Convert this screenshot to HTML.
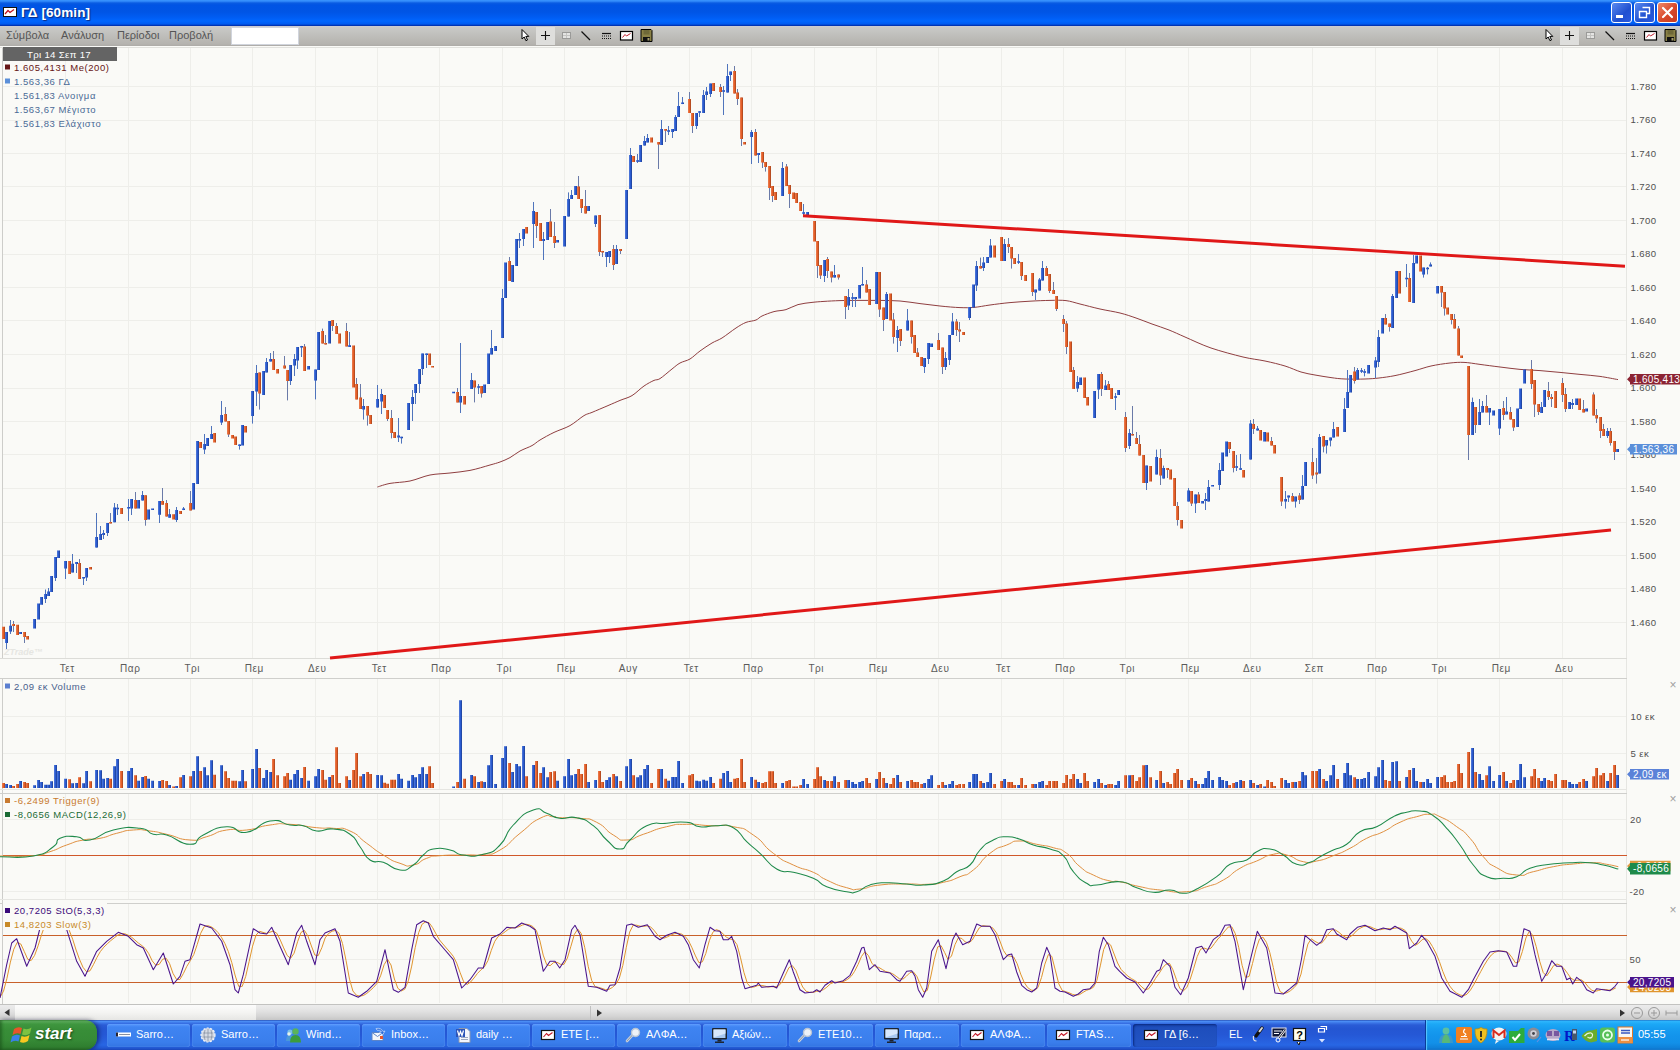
<!DOCTYPE html>
<html><head><meta charset="utf-8"><title>ΓΔ [60min]</title>
<style>
html,body{margin:0;padding:0;width:1680px;height:1050px;overflow:hidden;background:#fafaf7;font-family:"Liberation Sans",sans-serif}
#title{position:absolute;left:0;top:0;width:1680px;height:26px;background:linear-gradient(#3c98ff 0,#2a82f6 1.5px,#0a5ce2 3px,#0054e4 5px,#0055e5 12px,#005cf2 17px,#0066fe 21px,#005af0 24px,#0034b4 25.5px,#002ea8 26px)}
#title .t{position:absolute;left:21px;top:5px;color:#fff;font-weight:bold;font-size:13.5px;letter-spacing:0.1px;text-shadow:1px 1px 1px #0a2a80}
.wb{position:absolute;top:2px;width:19px;height:19px;border:1px solid #fff;border-radius:3px;background:linear-gradient(135deg,#5a8af0,#2050d0 60%,#2a5ae0)}
#toolbar{position:absolute;left:0;top:26px;width:1680px;height:20px;background:linear-gradient(#cdcdd6 0,#c9c9c7 1.5px,#c3c3c0 6px,#bcbbb7 12px,#b5b3af 18px,#adaba7 20px);border-bottom:1px solid #e8e8e6;box-sizing:content-box}
#toolbar .m{position:absolute;top:3px;font-size:11px;color:#555}
#inp{position:absolute;left:231px;top:1px;width:68px;height:18px;background:#fff;border:1px solid #d0d4dc;box-sizing:border-box}
#scroll{position:absolute;left:0;top:1004px;width:1680px;height:15px;border-top:1px solid #c2c2c0;background:linear-gradient(#ececec,#e2e2e2 40%,#d4d4d4 75%,#c6c6c6)}
#thumb{position:absolute;left:15px;top:0;width:241px;height:15px;background:linear-gradient(#fcfcfc,#f4f4f2 50%,#e6e6e4)}
#taskbar{position:absolute;left:0;top:1020px;width:1680px;height:30px;background:linear-gradient(#2a54b8 0,#4a8cf4 1.5px,#3a74e6 3px,#2a5cd6 5px,#2456d2 9px,#2558d6 15px,#2760de 21px,#2866e4 25px,#2258d2 28px,#1c46ba 30px)}
#start{position:absolute;left:0;top:0;width:97px;height:30px;border-radius:0 12px 12px 0;background:linear-gradient(#4a9a4a 0,#5aac5a 1.5px,#3f963f 4px,#388e38 10px,#368a36 20px,#2f7e2f 27px,#286c28 30px);box-shadow:2px 0 4px rgba(0,0,40,.5),inset 2px 0 3px rgba(20,70,20,.5)}
#start span{position:absolute;left:35px;top:4px;color:#fff;font-style:italic;font-weight:bold;font-size:17px;text-shadow:1px 1px 2px #1a4a1a}
.tb{position:absolute;top:4px;height:23px;width:84px;border-radius:3px;background:linear-gradient(#5a9aff 0,#3f84f2 3px,#3a7eec 18px,#3374e2 23px);box-shadow:inset 0 0 1px #8ab8ff}
.tb span{position:absolute;left:29px;top:4px;color:#fff;font-size:11px;white-space:nowrap}
.tb.act{background:linear-gradient(#1a44b0 0,#1e4ebc 4px,#2254c4 23px);box-shadow:inset 1px 1px 2px #0a2a80}
.tb svg{position:absolute;left:8px;top:3px}
.tb.act svg{left:10px}.tb.act span{left:31px}
#tray{position:absolute;left:1425px;top:0;width:255px;height:30px;background:linear-gradient(#1a70c8 0,#2cb4fc 1.5px,#1ca8f6 4px,#169cf0 9px,#1394ec 16px,#1290e8 23px,#0f80d8 28px,#0c6cc4 30px);border-left:1px solid #0a3c98;box-shadow:inset 1px 0 1px #5ac8ff;box-sizing:border-box}
#clock{position:absolute;left:212px;top:8px;color:#fff;font-size:11px}
#el{position:absolute;left:1229px;top:8px;color:#fff;font-size:11px}
svg{display:block}
</style></head>
<body>
<div id="title">
<svg width="22" height="26" style="position:absolute;left:0;top:0"><rect x="3.5" y="7.5" width="13" height="9" fill="#fff" stroke="#111"/><polyline points="5,14 8,10.5 10,12.5 14,9.5" fill="none" stroke="#c01020" stroke-width="1.2"/></svg>
<div class="t">ΓΔ [60min]</div>
<div class="wb" style="left:1611px"><svg width="19" height="19"><rect x="4" y="12" width="7" height="3" fill="#fff"/></svg></div>
<div class="wb" style="left:1634px"><svg width="19" height="19"><path d="M7.5 4.5h7v6h-2.5M4.500 8.500h7v6h-7z" fill="none" stroke="#fff" stroke-width="1.4"/></svg></div>
<div class="wb" style="left:1657px;background:linear-gradient(135deg,#f08a6a,#d8482a 55%,#c83a20)"><svg width="19" height="19"><path d="M5 5l9 9M14 5l-9 9" stroke="#fff" stroke-width="2.2" stroke-linecap="round"/></svg></div>
</div>
<div id="toolbar">
<span class="m" style="left:6px">Σύμβολα</span><span class="m" style="left:61px">Ανάλυση</span><span class="m" style="left:117px">Περίοδοι</span><span class="m" style="left:169px">Προβολή</span>
<div id="inp"></div>
<svg width="1680" height="20" style="position:absolute;left:0;top:0"><g transform="translate(0,0)"><rect x="536" y="1" width="19" height="18" fill="#dededc"/><path d="M522 3.500v9.500l2.200-2 1.700 3.700 1.600-.7-1.700-3.600h3z" fill="#fff" stroke="#000" stroke-width="1" stroke-linejoin="miter"/><path d="M541 9.500h9M545.500 5v9" stroke="#111" stroke-width="1.100" fill="none"/><rect x="562.500" y="6.500" width="8" height="6" fill="#e4e4e2" stroke="#9a9a98"/><path d="M566.500 7v5M563 9.500h7" stroke="#c4c4c2" stroke-width="1"/><path d="M581.500 5.500l8.500 8.500" stroke="#111" stroke-width="1.200" fill="none"/><path d="M602 7.500h9" stroke="#111" stroke-width="1.200"/><path d="M602 10h9M602 12.500h9" stroke="#111" stroke-width="1.200" stroke-dasharray="1 1"/><rect x="620.500" y="5.500" width="12" height="8.500" fill="#fff" stroke="#000" stroke-width="1.200"/><polyline points="622.500,11.500 625,8.500 626.500,10 630.500,7.500" fill="none" stroke="#c02030" stroke-width="1"/><path d="M641 3.500h10l1 1v11h-11z" fill="#8a8146" stroke="#000" stroke-width="1"/><rect x="643.500" y="4" width="6" height="4.500" fill="#6e6838"/><rect x="643" y="11" width="7" height="4.500" fill="#111"/><rect x="647.500" y="12" width="2" height="2.500" fill="#a8a070"/></g><g transform="translate(1024,0)"><rect x="536" y="1" width="19" height="18" fill="#dededc"/><path d="M522 3.500v9.500l2.200-2 1.700 3.700 1.600-.7-1.700-3.600h3z" fill="#fff" stroke="#000" stroke-width="1" stroke-linejoin="miter"/><path d="M541 9.500h9M545.500 5v9" stroke="#111" stroke-width="1.100" fill="none"/><rect x="562.500" y="6.500" width="8" height="6" fill="#e4e4e2" stroke="#9a9a98"/><path d="M566.500 7v5M563 9.500h7" stroke="#c4c4c2" stroke-width="1"/><path d="M581.500 5.500l8.500 8.500" stroke="#111" stroke-width="1.200" fill="none"/><path d="M602 7.500h9" stroke="#111" stroke-width="1.200"/><path d="M602 10h9M602 12.500h9" stroke="#111" stroke-width="1.200" stroke-dasharray="1 1"/><rect x="620.500" y="5.500" width="12" height="8.500" fill="#fff" stroke="#000" stroke-width="1.200"/><polyline points="622.500,11.500 625,8.500 626.500,10 630.500,7.500" fill="none" stroke="#c02030" stroke-width="1"/><path d="M641 3.500h10l1 1v11h-11z" fill="#8a8146" stroke="#000" stroke-width="1"/><rect x="643.500" y="4" width="6" height="4.500" fill="#6e6838"/><rect x="643" y="11" width="7" height="4.500" fill="#111"/><rect x="647.500" y="12" width="2" height="2.500" fill="#a8a070"/></g></svg>
</div>
<svg width="1680" height="958" viewBox="0 46 1680 958" style="position:absolute;left:0;top:46px" shape-rendering="auto">
<rect x="0" y="46" width="1680" height="958" fill="#fafaf7"/>
<path d="M65.5 47V658M65.5 679V789M65.5 794V899M65.5 904V1003M128.5 47V658M128.5 679V789M128.5 794V899M128.5 904V1003M190.5 47V658M190.5 679V789M190.5 794V899M190.5 904V1003M252.5 47V658M252.5 679V789M252.5 794V899M252.5 904V1003M315.5 47V658M315.5 679V789M315.5 794V899M315.5 904V1003M377.5 47V658M377.5 679V789M377.5 794V899M377.5 904V1003M439.5 47V658M439.5 679V789M439.5 794V899M439.5 904V1003M502.5 47V658M502.5 679V789M502.5 794V899M502.5 904V1003M564.5 47V658M564.5 679V789M564.5 794V899M564.5 904V1003M626.5 47V658M626.5 679V789M626.5 794V899M626.5 904V1003M689.5 47V658M689.5 679V789M689.5 794V899M689.5 904V1003M751.5 47V658M751.5 679V789M751.5 794V899M751.5 904V1003M814.5 47V658M814.5 679V789M814.5 794V899M814.5 904V1003M876.5 47V658M876.5 679V789M876.5 794V899M876.5 904V1003M938.5 47V658M938.5 679V789M938.5 794V899M938.5 904V1003M1001.5 47V658M1001.5 679V789M1001.5 794V899M1001.5 904V1003M1063.5 47V658M1063.5 679V789M1063.5 794V899M1063.5 904V1003M1125.5 47V658M1125.5 679V789M1125.5 794V899M1125.5 904V1003M1188.5 47V658M1188.5 679V789M1188.5 794V899M1188.5 904V1003M1250.5 47V658M1250.5 679V789M1250.5 794V899M1250.5 904V1003M1312.5 47V658M1312.5 679V789M1312.5 794V899M1312.5 904V1003M1375.5 47V658M1375.5 679V789M1375.5 794V899M1375.5 904V1003M1437.5 47V658M1437.5 679V789M1437.5 794V899M1437.5 904V1003M1499.5 47V658M1499.5 679V789M1499.5 794V899M1499.5 904V1003M1562.5 47V658M1562.5 679V789M1562.5 794V899M1562.5 904V1003" stroke="#eeeeea" stroke-width="1" fill="none"/>
<path d="M3 86.5H1627M3 120.5H1627M3 153.5H1627M3 186.5H1627M3 220.5H1627M3 254.5H1627M3 287.5H1627M3 320.5H1627M3 354.5H1627M3 388.5H1627M3 421.5H1627M3 454.5H1627M3 488.5H1627M3 522.5H1627M3 555.5H1627M3 588.5H1627M3 622.5H1627M3 716.5H1627M3 753.5H1627M3 819.5H1627M3 891.5H1627M3 959.5H1627" stroke="#eeeeea" stroke-width="1" fill="none"/>
<path d="M2.5 47V658M2.5 679V1004" stroke="#cdcdca" stroke-width="1" fill="none"/>
<path d="M1626.5 47V1004" stroke="#e6e6e2" stroke-width="1" fill="none"/>
<path d="M0 47.5H1680" stroke="#e2e2de" stroke-width="1" fill="none"/>
<path d="M0 658.5H1627" stroke="#dcdcd8" stroke-width="1" fill="none"/>
<path d="M0 678.5H1627M0 793.5H1627M0 903.5H1627" stroke="#cfcfcc" stroke-width="1" fill="none"/>
<path d="M0 789.5H1627M0 899.5H1627" stroke="#e6e6e2" stroke-width="1" fill="none"/>
<path d="M3 935.5H1627M3 982.5H1627" stroke="#c8602a" stroke-width="1" fill="none"/>
<path d="M3 855.5H1627" stroke="#d0582a" stroke-width="1" fill="none"/>
<path d="M377.4 487C379.5 486.4 384.6 484.4 390 483.4C395.4 482.4 403.3 482.4 410 481C416.7 479.6 423.3 476.3 430 475C436.7 473.7 443.3 473.8 450 473C456.7 472.2 463.3 471.7 470 470.4C476.7 469.1 485.0 466.4 490 465C495.0 463.6 496.7 463.2 500 462C503.3 460.8 506.7 459.4 510 457.6C513.3 455.8 516.3 453.0 520 451C523.7 449.0 528.7 447.4 532 445.6C535.3 443.8 536.3 442.2 540 440C543.7 437.8 549.0 434.8 554 432.4C559.0 430.0 565.0 428.4 570 425.6C575.0 422.8 580.3 417.8 584 415.6C587.7 413.4 588.0 414.1 592 412.4C596.0 410.7 603.3 407.6 608 405.6C612.7 403.6 616.0 402.1 620 400.4C624.0 398.7 628.0 398.0 632 395.6C636.0 393.2 640.3 388.5 644 386C647.7 383.5 651.3 381.6 654 380.4C656.7 379.2 657.0 380.5 660 378.6C663.0 376.7 668.7 371.6 672 369C675.3 366.4 677.0 364.7 680 363C683.0 361.3 686.7 361.0 690 359C693.3 357.0 696.3 353.7 700 351C703.7 348.3 708.3 345.2 712 343C715.7 340.8 718.0 340.5 722 338C726.0 335.5 732.0 330.6 736 328C740.0 325.4 742.7 323.7 746 322.4C749.3 321.1 753.3 321.1 756 320C758.7 318.9 759.0 317.4 762 316C765.0 314.6 770.0 312.7 774 311.6C778.0 310.5 782.0 310.8 786 309.6C790.0 308.4 793.7 305.8 798 304.6C802.3 303.4 807.7 302.9 812 302.4C816.3 301.9 819.3 301.7 824 301.4C828.7 301.1 834.0 300.8 840 300.6C846.0 300.4 853.3 300.4 860 300.4C866.7 300.4 873.3 300.3 880 300.4C886.7 300.5 893.3 300.5 900 301C906.7 301.5 913.3 302.8 920 303.6C926.7 304.4 933.3 305.3 940 306C946.7 306.7 954.3 307.4 960 307.6C965.7 307.8 969.0 307.8 974 307.4C979.0 307.0 984.0 305.8 990 305C996.0 304.2 1003.3 303.2 1010 302.6C1016.7 302.0 1023.3 301.6 1030 301.2C1036.7 300.8 1044.0 300.5 1050 300.4C1056.0 300.3 1061.0 300.0 1066 300.6C1071.0 301.2 1074.3 302.6 1080 304C1085.7 305.4 1093.3 307.5 1100 309C1106.7 310.5 1114.0 311.5 1120 313C1126.0 314.5 1130.7 316.2 1136 318C1141.3 319.8 1146.5 322.0 1152 324C1157.5 326.0 1163.5 327.8 1169 330C1174.5 332.2 1178.0 334.0 1185 337C1192.0 340.0 1201.3 344.7 1211 348C1220.7 351.3 1234.0 354.8 1243 357C1252.0 359.2 1258.0 359.5 1265 361C1272.0 362.5 1279.0 364.2 1285 366C1291.0 367.8 1296.0 370.5 1301 372C1306.0 373.5 1310.0 374.1 1315 375C1320.0 375.9 1326.0 376.9 1331 377.6C1336.0 378.3 1339.3 378.8 1345 379C1350.7 379.2 1359.3 379.2 1365 379C1370.7 378.8 1374.0 378.6 1379 378C1384.0 377.4 1389.0 376.8 1395 375.6C1401.0 374.4 1409.0 372.2 1415 370.6C1421.0 369.0 1425.2 367.3 1431 366C1436.8 364.7 1444.5 363.6 1450 363C1455.5 362.4 1459.0 362.2 1464 362.4C1469.0 362.6 1474.0 363.6 1480 364.4C1486.0 365.2 1493.3 366.2 1500 367C1506.7 367.8 1513.3 368.8 1520 369.4C1526.7 370.0 1533.3 370.1 1540 370.6C1546.7 371.1 1553.3 371.8 1560 372.4C1566.7 373.0 1573.3 373.7 1580 374.4C1586.7 375.1 1593.7 375.5 1600 376.4C1606.3 377.3 1615.0 379.1 1618 379.6" fill="none" stroke="#8f3e40" stroke-width="1.0" stroke-linejoin="round"/>
<path d="M6.5 632V649.5M10.5 620V634M45.5 589.5V603M48.5 588V596M55.5 557V581M65.5 561V579M72.5 554V572.4M76.5 562V573M83.5 577V585M86.5 568V581M96.5 513V547.6M100.5 526V540M103.5 530V539M107.5 523V536M114.5 503V522.3M117.5 504V515M128.5 499V521M131.5 499V515M142.5 491V500.6M159.5 501V523M169.5 509V517.7M176.5 507V522M183.5 507V510.1M204.5 434V454M211.5 426V439M221.5 401V425M239.5 444.4V449.6M252.5 391V423.6M256.5 365V406M266.5 358V372.4M270.5 353V361.6M290.5 365V385M294.5 354V376M297.5 347V369M301.5 345.9V357M315.5 369.6V399.4M349.5 332V346.9M363.5 399V419.6M377.5 385V407.6M381.5 389V414M398.5 418V442M401.5 436.7V443.6M412.5 390V421M415.5 384V404M419.5 369V393M422.5 353.6V375M426.5 353.5V368M460.5 343V413M471.5 373V389M478.5 384V394M491.5 330V354.4M502.5 289V338M519.5 233V248M523.5 229V246M533.5 202V248M543.5 232V260M568.5 192.4V216.6M571.5 190V199M595.5 215.6V227M606.5 252V267M609.5 251V263M616.5 245V264M630.5 148V189M637.5 154V163M644.5 136V145.6M647.5 134V142.4M661.5 120V145M668.5 126V135M672.5 129V138M675.5 115V131M678.5 92V117M682.5 97V104.1M696.5 113V129M699.5 111V117M703.5 90V113M706.5 87V100M710.5 83.6V97M723.5 86V115M727.5 64V92.6M730.5 71.6V81M751.5 130V164M758.5 153V163M782.5 162V196M803.5 204V215M824.5 260V282M834.5 265V277.6M848.5 289V310M852.5 293V307M855.5 297V307M862.5 267V285.5M886.5 292V319M897.5 326V352M907.5 309V330.6M924.5 358V373M928.5 343V364M945.5 352V370M949.5 335V365M952.5 313V335M969.5 307V320M976.5 261V291M983.5 257V271M990.5 239V257.6M1004.5 239V261M1018.5 254V264M1035.5 289.6V300M1039.5 278V290.6M1042.5 261V280.6M1077.5 376V392M1098.5 374V399M1105.5 380V390M1115.5 393V410M1129.5 429V449M1146.5 465.6V490M1156.5 449.6V474.4M1163.5 465.6V478.6M1188.5 488V501.6M1195.5 494.4V513M1205.5 493V510M1208.5 480V501.6M1219.5 463V490M1236.5 455V471M1240.5 454V470M1250.5 420V459.6M1257.5 426V430.6M1285.5 491V508.6M1288.5 495.6V502M1295.5 496.6V507.6M1302.5 475V499.6M1319.5 434V473.6M1326.5 440V453.6M1330.5 437.6V446.4M1333.5 422V437.6M1344.5 398V432M1347.5 370V408M1357.5 368V379.6M1361.5 368V373M1364.5 369V376.4M1375.5 357V378M1378.5 330V367M1392.5 294V328M1406.5 264V287M1413.5 255V303M1423.5 267.6V277.6M1427.5 267V274.4M1430.5 262.4V266.4M1472.5 397.6V435M1479.5 399V425M1482.5 401V412.4M1489.5 408V425M1499.5 409V435M1506.5 397V414.4M1541.5 402V413M1572.5 399V409M1607.5 428V438" stroke="#4f74bc" stroke-width="1" fill="none"/>
<path d="M13.5 621V632M24.5 632V643M79.5 559V579M110.5 513V523.5M135.5 492V508.6M145.5 495.2V525.7M162.5 488V504.8M166.5 500V516.6M190.5 491V510.5M225.5 407V421.6M228.5 421V437M259.5 372.4V409.6M273.5 351V370M284.5 356V368.6M287.5 370V400.4M304.5 344V371M322.5 328.6V343.6M325.5 335V344.6M332.5 320V331M336.5 323V334M346.5 323V346.4M356.5 378V399.4M360.5 384V409M367.5 406V425.6M387.5 410V421M391.5 410V438.4M457.5 388V402.4M474.5 380.6V402.4M481.5 386V397.6M509.5 257V281M536.5 212V238M550.5 209V237M554.5 222V248M578.5 176V199M581.5 199V213M585.5 190V213.6M599.5 215V256M602.5 250.9V257M613.5 245V270M620.5 249V254M658.5 142V169M665.5 129.1V142M689.5 92V113M692.5 113V133M720.5 84V97M734.5 66V93.6M737.5 89V105M741.5 97.6V146M755.5 129V155.6M762.5 152V168M765.5 162V171.6M769.5 166V200M772.5 186V202M786.5 164V186M789.5 185V208M817.5 241V278M820.5 265V279M827.5 257V278M831.5 271.6V282.4M838.5 274.4V279.6M845.5 296V319M866.5 280V292.6M879.5 272V317M883.5 307.6V331M893.5 313V343.6M900.5 329V346M911.5 320.6V343.6M917.5 348V357M938.5 333V350M942.5 347.6V374M956.5 319V336M959.5 322V342M980.5 257.6V268.6M1008.5 238V253M1011.5 247V268.6M1021.5 262V280M1032.5 273V296M1046.5 266V276M1049.5 274V293M1053.5 282V294M1056.5 296V311M1063.5 315V332M1066.5 321V354M1073.5 367V389M1101.5 372V396M1108.5 381V390M1125.5 412V452M1132.5 406V435.6M1136.5 432V444M1139.5 435V455.6M1160.5 449V485M1167.5 468V478M1177.5 502V525.6M1191.5 491V506M1198.5 492V503M1229.5 442V453M1233.5 451V472.4M1253.5 419V434M1271.5 437V445.6M1281.5 477V506M1292.5 493V501.6M1299.5 493V504M1312.5 448V479M1316.5 458V483.6M1323.5 436V452.4M1354.5 367V383.6M1385.5 314V324.4M1389.5 323.6V331.6M1409.5 273V302M1441.5 286V307M1444.5 292V315.6M1451.5 314V324.4M1454.5 314V328.6M1458.5 326V355.6M1468.5 366V460M1475.5 407V433M1486.5 395V412.4M1503.5 401V420M1510.5 407V419.6M1513.5 419V431M1531.5 360V389M1534.5 380V417M1538.5 404V415M1548.5 382V400M1551.5 394V407M1562.5 378V402M1565.5 388V412M1583.5 400V412.4M1593.5 392.4V415.6M1596.5 409V423M1600.5 417V438M1603.5 424V436M1610.5 428V445.6M1614.5 441V460" stroke="#6a7aa8" stroke-width="1" fill="none"/>
<path d="M5 632h3V643h-3zM9 625.7h3V631.4h-3zM19 632h3V634h-3zM33 619h3V628.6h-3zM37 603.4h3V619.6h-3zM40 597h3V604.8h-3zM44 594h3V599h-3zM47 591.4h3V596h-3zM50 576h3V592h-3zM54 557h3V578h-3zM57 550.5h3V558h-3zM64 561h3V568.6h-3zM71 563.8h3V572.4h-3zM75 562h3V564h-3zM82 577h3V578.6h-3zM85 568h3V577.5h-3zM95 537h3V547.6h-3zM99 534h3V540h-3zM102 533h3V535h-3zM106 523h3V533h-3zM113 507.6h3V522.3h-3zM116 507.7h3V509.3h-3zM127 507h3V508.6h-3zM130 499h3V508.6h-3zM137 500h3V508.6h-3zM141 494.9h3V500.6h-3zM147 509.5h3V519.6h-3zM151 508.4h3V510.1h-3zM158 501h3V514.7h-3zM168 514.3h3V517.7h-3zM175 510h3V520h-3zM182 508.4h3V510.1h-3zM192 483h3V509.5h-3zM196 441h3V484h-3zM203 444h3V449.6h-3zM206 438h3V446h-3zM210 434h3V439h-3zM220 415h3V422.4h-3zM238 444.4h3V446h-3zM241 425h3V445.4h-3zM251 391h3V416h-3zM255 373h3V391.6h-3zM262 371h3V395h-3zM265 362h3V372.4h-3zM269 359h3V361.6h-3zM289 365h3V381h-3zM293 359h3V365.6h-3zM296 347h3V360.6h-3zM300 345.9h3V347.5h-3zM307 366h3V369.6h-3zM314 369.6h3V380.6h-3zM317 332h3V370h-3zM328 321h3V343.6h-3zM348 345.3h3V346.9h-3zM362 406h3V409.6h-3zM376 399h3V407.6h-3zM380 394h3V401.6h-3zM397 435.4h3V437.6h-3zM400 436.7h3V438.3h-3zM407 403h3V430h-3zM411 397h3V404h-3zM414 384h3V393h-3zM418 369h3V384h-3zM421 353.6h3V369h-3zM425 353.5h3V355.1h-3zM452 391.7h3V393.3h-3zM459 396h3V402.4h-3zM470 380h3V389h-3zM477 386.2h3V387.8h-3zM483 384.4h3V393h-3zM487 353.6h3V384h-3zM490 348h3V354.4h-3zM494 346h3V351h-3zM501 298h3V338h-3zM504 262.4h3V298h-3zM511 265h3V282h-3zM515 239h3V266h-3zM518 239h3V240.6h-3zM522 229h3V239h-3zM532 211h3V224h-3zM542 239h3V241h-3zM546 222h3V240h-3zM556 240h3V242.6h-3zM563 216h3V246.6h-3zM567 199h3V216.6h-3zM570 195h3V199h-3zM574 186h3V195h-3zM587 206h3V211h-3zM594 215.6h3V224h-3zM605 252h3V257h-3zM608 251h3V257h-3zM615 249h3V264h-3zM625 190h3V239h-3zM629 155h3V189h-3zM636 160.2h3V161.8h-3zM639 145h3V162h-3zM643 141h3V145.6h-3zM646 138h3V142.4h-3zM660 129h3V145h-3zM667 130.2h3V131.8h-3zM671 129h3V132h-3zM674 117h3V131h-3zM677 106h3V117h-3zM681 102.5h3V104.1h-3zM695 113h3V126h-3zM698 111.2h3V112.8h-3zM702 95h3V113h-3zM705 91.6h3V95h-3zM709 83.6h3V94h-3zM722 90.2h3V91.8h-3zM726 76h3V92.6h-3zM729 71.6h3V75h-3zM750 132h3V137h-3zM757 153h3V155h-3zM781 168h3V196h-3zM802 212.2h3V213.8h-3zM806 212h3V215h-3zM823 260h3V276h-3zM833 275h3V277.6h-3zM847 297h3V305.6h-3zM851 297.2h3V298.8h-3zM854 297h3V299h-3zM858 285h3V298.6h-3zM861 283.9h3V285.5h-3zM875 272h3V304h-3zM885 294h3V319h-3zM896 330h3V338h-3zM906 320.6h3V330.6h-3zM923 358h3V367h-3zM927 343h3V359h-3zM930 343.6h3V347h-3zM944 358h3V367h-3zM948 335h3V360h-3zM951 321.6h3V335h-3zM968 307h3V318h-3zM972 284.4h3V307.4h-3zM975 266h3V285.6h-3zM982 262.4h3V268h-3zM986 257h3V263h-3zM989 245.6h3V257.6h-3zM1003 244h3V261h-3zM1017 261.2h3V262.8h-3zM1034 289.6h3V292.4h-3zM1038 279.6h3V290.6h-3zM1041 268h3V280.6h-3zM1076 382h3V388.6h-3zM1079 377.6h3V385h-3zM1093 391h3V418h-3zM1097 374h3V389.6h-3zM1104 385.6h3V390h-3zM1114 396.2h3V397.8h-3zM1117 390h3V395h-3zM1128 433h3V446h-3zM1145 465.6h3V483h-3zM1155 457h3V474.4h-3zM1162 468h3V478.6h-3zM1187 490.6h3V501.6h-3zM1194 494.4h3V503.6h-3zM1201 501h3V503.6h-3zM1204 499h3V501h-3zM1207 487h3V501.6h-3zM1211 484.9h3V486.5h-3zM1218 470h3V485h-3zM1221 452.6h3V471h-3zM1225 441.6h3V456.6h-3zM1235 466.2h3V467.8h-3zM1239 468.2h3V469.8h-3zM1249 423.6h3V459.6h-3zM1256 428.6h3V430.6h-3zM1263 432h3V441.6h-3zM1284 499h3V501.6h-3zM1287 495.6h3V497.6h-3zM1294 496.6h3V501.6h-3zM1301 486h3V499.6h-3zM1304 462h3V486h-3zM1318 437h3V473.6h-3zM1325 440h3V445.6h-3zM1329 437.6h3V440.4h-3zM1332 429h3V437.6h-3zM1343 409h3V432h-3zM1346 392h3V408h-3zM1349 375h3V392.4h-3zM1356 370h3V379.6h-3zM1360 370.2h3V371.8h-3zM1363 371.2h3V372.8h-3zM1367 365h3V373.6h-3zM1374 360.6h3V367.6h-3zM1377 337h3V362h-3zM1381 318h3V333.6h-3zM1391 296h3V328h-3zM1395 271h3V298h-3zM1405 277.7h3V279.3h-3zM1412 263h3V303h-3zM1415 255.6h3V263.6h-3zM1422 267.6h3V274.4h-3zM1426 267.7h3V269.3h-3zM1429 264.4h3V266.4h-3zM1436 286h3V293.6h-3zM1471 402h3V435h-3zM1478 412h3V425h-3zM1481 406h3V412.4h-3zM1488 408h3V412.4h-3zM1492 410.6h3V415.6h-3zM1498 409h3V428.6h-3zM1505 411.6h3V414.4h-3zM1516 408.6h3V427h-3zM1519 388.6h3V409h-3zM1523 369.4h3V383.6h-3zM1540 407h3V413h-3zM1543 390h3V407h-3zM1568 402h3V409h-3zM1571 403h3V405h-3zM1575 398.6h3V405h-3zM1585 408.6h3V411.6h-3zM1606 431h3V436h-3zM1616 449h3V452h-3z" fill="#2b5bd0"/>
<path d="M2 626.7h3V639h-3zM12 624h3V626h-3zM16 624.8h3V635h-3zM23 632h3V637h-3zM26 636h3V639.6h-3zM68 561h3V574h-3zM78 563h3V579h-3zM89 567h3V569.5h-3zM109 521.9h3V523.5h-3zM120 508h3V514h-3zM134 500h3V508.6h-3zM144 495.2h3V520h-3zM161 501h3V504.8h-3zM165 502.9h3V516.6h-3zM172 514.3h3V519.6h-3zM179 510.9h3V513.9h-3zM189 502.9h3V510.5h-3zM199 442h3V448h-3zM213 433h3V442.4h-3zM224 414h3V421.6h-3zM227 421h3V434.4h-3zM231 435h3V438.4h-3zM234 436.6h3V445h-3zM244 426h3V432.4h-3zM258 372.4h3V393.6h-3zM272 359h3V370h-3zM276 369h3V373.6h-3zM283 365.6h3V368.6h-3zM286 370h3V381h-3zM303 346.4h3V371h-3zM321 331h3V343.6h-3zM324 343h3V344.6h-3zM331 320h3V326h-3zM335 326h3V334h-3zM338 333.6h3V343.6h-3zM345 331h3V346.4h-3zM352 345.6h3V387.4h-3zM355 384h3V399.4h-3zM359 397.4h3V409h-3zM366 406h3V415.6h-3zM369 415h3V424h-3zM383 395h3V408h-3zM386 410h3V419h-3zM390 418h3V433h-3zM393 432h3V438h-3zM428 353.6h3V365h-3zM431 366h3V367.6h-3zM456 392h3V402.4h-3zM463 396h3V404.4h-3zM473 380.6h3V387.4h-3zM480 386h3V393.6h-3zM508 261h3V281h-3zM525 227h3V233.6h-3zM535 212h3V226h-3zM539 223h3V241h-3zM549 221.6h3V237h-3zM553 236h3V243h-3zM577 186.4h3V199h-3zM580 199h3V208h-3zM584 206h3V213.6h-3zM598 215h3V252h-3zM601 250.9h3V252.5h-3zM612 249h3V265h-3zM619 249h3V251h-3zM632 156h3V162h-3zM650 137.6h3V142.6h-3zM657 142h3V144.4h-3zM664 129.1h3V130.7h-3zM688 99h3V113h-3zM691 113h3V126h-3zM712 83h3V91h-3zM719 87h3V92h-3zM733 71h3V93.6h-3zM736 92.6h3V99h-3zM740 97.6h3V139h-3zM743 142h3V144.6h-3zM754 132h3V155.6h-3zM761 152h3V162.4h-3zM764 162h3V167h-3zM768 166h3V188h-3zM771 186h3V196h-3zM774 192h3V200h-3zM785 166.6h3V186h-3zM788 185h3V194h-3zM792 192.4h3V199h-3zM795 193h3V203h-3zM799 202h3V211h-3zM813 221h3V241.6h-3zM816 241h3V266h-3zM819 265h3V275.6h-3zM826 259h3V271h-3zM830 271.6h3V277.6h-3zM837 274.4h3V277.6h-3zM844 296h3V307h-3zM865 284.4h3V292.6h-3zM868 289h3V305h-3zM878 272h3V309.6h-3zM882 307.6h3V320h-3zM889 293.6h3V320.6h-3zM892 319.6h3V337h-3zM899 329h3V341h-3zM910 320.6h3V337h-3zM913 335h3V353h-3zM916 352.6h3V357h-3zM920 357h3V366h-3zM937 340h3V350h-3zM941 347.6h3V367h-3zM955 321.6h3V330h-3zM958 329.4h3V331.4h-3zM962 332h3V335h-3zM979 266h3V268.6h-3zM993 245.6h3V257.6h-3zM1000 237h3V261h-3zM1007 244h3V247h-3zM1010 247h3V258.6h-3zM1013 258h3V264h-3zM1020 262h3V276h-3zM1024 275h3V281h-3zM1031 273h3V292h-3zM1045 268h3V276h-3zM1048 274h3V291h-3zM1052 290h3V294h-3zM1055 296h3V309h-3zM1062 319h3V324h-3zM1065 323.6h3V347h-3zM1069 341.6h3V372h-3zM1072 370h3V389h-3zM1083 377.6h3V398h-3zM1086 397h3V405.6h-3zM1100 374h3V389h-3zM1107 384h3V390h-3zM1110 388h3V399h-3zM1124 417h3V448h-3zM1131 434h3V435.6h-3zM1135 438h3V444h-3zM1138 444h3V455.6h-3zM1142 455h3V483h-3zM1149 466h3V481.6h-3zM1159 458h3V475.6h-3zM1166 468h3V470h-3zM1169 469.4h3V479.6h-3zM1173 478h3V506h-3zM1176 506h3V520h-3zM1180 520h3V528.4h-3zM1190 491h3V503.6h-3zM1197 494.4h3V503h-3zM1228 442h3V449h-3zM1232 451h3V468h-3zM1242 470h3V477.6h-3zM1252 424h3V429h-3zM1259 430h3V440.6h-3zM1266 432.6h3V441.6h-3zM1270 441h3V445.6h-3zM1273 445h3V453.6h-3zM1280 477h3V501.6h-3zM1291 496h3V501.6h-3zM1298 495.6h3V500h-3zM1311 462h3V475.6h-3zM1315 472.4h3V474.4h-3zM1322 436h3V446.6h-3zM1336 427h3V436.6h-3zM1353 371.6h3V381h-3zM1384 318h3V324.4h-3zM1388 323.6h3V327h-3zM1398 271h3V293.6h-3zM1408 278h3V302h-3zM1419 255.6h3V271.6h-3zM1440 286h3V292.6h-3zM1443 292h3V308.6h-3zM1446 307.6h3V314.4h-3zM1450 314h3V320h-3zM1453 319h3V328.6h-3zM1457 328.6h3V355.6h-3zM1460 355.6h3V358h-3zM1467 366h3V435h-3zM1474 407h3V425h-3zM1485 406h3V412.4h-3zM1502 408h3V415h-3zM1509 412h3V419.6h-3zM1512 419h3V427.6h-3zM1530 369h3V384h-3zM1533 380h3V404.6h-3zM1537 404h3V412h-3zM1547 391h3V397h-3zM1550 397h3V399h-3zM1554 391h3V408h-3zM1561 383h3V395h-3zM1564 394h3V409h-3zM1578 398.6h3V410h-3zM1582 409h3V412.4h-3zM1592 394.4h3V415.6h-3zM1595 415h3V418.6h-3zM1599 417h3V431h-3zM1602 429h3V436h-3zM1609 431h3V443h-3zM1613 441h3V452h-3z" fill="#e55f28"/>
<path d="M5 784h3V788h-3zM9 785h3V788h-3zM19 781h3V788h-3zM33 785.3h3V788h-3zM37 780h3V788h-3zM40 782h3V788h-3zM44 784.7h3V788h-3zM47 784.7h3V788h-3zM50 781.3h3V788h-3zM54 765h3V788h-3zM57 771h3V788h-3zM64 778.7h3V788h-3zM71 783.3h3V788h-3zM75 783h3V788h-3zM82 783.3h3V788h-3zM85 771h3V788h-3zM95 770h3V788h-3zM99 770.3h3V788h-3zM102 778.7h3V788h-3zM106 778h3V788h-3zM113 766.3h3V788h-3zM116 759h3V788h-3zM127 771h3V788h-3zM130 768h3V788h-3zM137 780.7h3V788h-3zM141 777h3V788h-3zM147 778.7h3V788h-3zM151 780.7h3V788h-3zM158 781h3V788h-3zM168 785h3V788h-3zM175 786h3V788h-3zM182 775h3V788h-3zM192 771h3V788h-3zM196 756.3h3V788h-3zM203 767.3h3V788h-3zM206 775.3h3V788h-3zM210 760.3h3V788h-3zM220 765.3h3V788h-3zM238 781.3h3V788h-3zM241 770h3V788h-3zM251 769h3V788h-3zM255 749h3V788h-3zM262 778h3V788h-3zM265 770h3V788h-3zM269 772h3V788h-3zM289 779.7h3V788h-3zM293 774h3V788h-3zM296 770h3V788h-3zM300 778h3V788h-3zM307 780.7h3V788h-3zM314 776.3h3V788h-3zM317 769h3V788h-3zM328 777h3V788h-3zM348 780h3V788h-3zM362 774h3V788h-3zM376 775h3V788h-3zM380 775.3h3V788h-3zM397 774h3V788h-3zM400 778.7h3V788h-3zM407 780.7h3V788h-3zM411 775h3V788h-3zM414 777.3h3V788h-3zM418 774h3V788h-3zM421 767.3h3V788h-3zM425 774h3V788h-3zM452 786.5h3V788h-3zM459 700.3h3V788h-3zM470 775h3V788h-3zM477 782h3V788h-3zM483 782h3V788h-3zM487 765.3h3V788h-3zM490 755h3V788h-3zM494 784h3V788h-3zM501 758h3V788h-3zM504 746.3h3V788h-3zM511 772h3V788h-3zM515 764h3V788h-3zM518 766.3h3V788h-3zM522 746h3V788h-3zM532 765h3V788h-3zM542 767.3h3V788h-3zM546 777.3h3V788h-3zM556 780.7h3V788h-3zM563 776.3h3V788h-3zM567 759h3V788h-3zM570 775.3h3V788h-3zM574 774h3V788h-3zM587 782h3V788h-3zM594 780h3V788h-3zM605 780h3V788h-3zM608 777.3h3V788h-3zM615 776.3h3V788h-3zM625 766.3h3V788h-3zM629 759h3V788h-3zM636 777.3h3V788h-3zM639 775.3h3V788h-3zM643 769h3V788h-3zM646 765h3V788h-3zM660 769h3V788h-3zM667 780.7h3V788h-3zM671 777h3V788h-3zM674 777h3V788h-3zM677 761h3V788h-3zM681 783h3V788h-3zM695 780.7h3V788h-3zM698 781.3h3V788h-3zM702 779.7h3V788h-3zM705 780.7h3V788h-3zM709 777h3V788h-3zM722 773h3V788h-3zM726 771h3V788h-3zM729 782h3V788h-3zM750 777h3V788h-3zM757 782h3V788h-3zM781 783h3V788h-3zM802 779h3V788h-3zM806 784h3V788h-3zM823 780h3V788h-3zM833 776.3h3V788h-3zM847 780h3V788h-3zM851 782h3V788h-3zM854 784h3V788h-3zM858 782h3V788h-3zM861 781h3V788h-3zM875 779h3V788h-3zM885 783h3V788h-3zM896 775h3V788h-3zM906 781h3V788h-3zM923 783h3V788h-3zM927 779h3V788h-3zM930 775.3h3V788h-3zM944 785h3V788h-3zM948 784h3V788h-3zM951 781h3V788h-3zM968 782h3V788h-3zM972 774h3V788h-3zM975 774h3V788h-3zM982 783h3V788h-3zM986 782h3V788h-3zM989 773h3V788h-3zM1003 779h3V788h-3zM1017 785h3V788h-3zM1034 784h3V788h-3zM1038 782h3V788h-3zM1041 781h3V788h-3zM1076 779h3V788h-3zM1079 783h3V788h-3zM1093 782h3V788h-3zM1097 779h3V788h-3zM1104 785h3V788h-3zM1114 785h3V788h-3zM1117 781h3V788h-3zM1128 775.3h3V788h-3zM1145 765h3V788h-3zM1155 780h3V788h-3zM1162 783h3V788h-3zM1187 780h3V788h-3zM1194 781h3V788h-3zM1201 784h3V788h-3zM1204 778h3V788h-3zM1207 771h3V788h-3zM1211 780h3V788h-3zM1218 777h3V788h-3zM1221 780h3V788h-3zM1225 781h3V788h-3zM1235 782h3V788h-3zM1239 780h3V788h-3zM1249 780h3V788h-3zM1256 785h3V788h-3zM1263 786.5h3V788h-3zM1284 780h3V788h-3zM1287 783h3V788h-3zM1294 782h3V788h-3zM1301 772h3V788h-3zM1304 775.3h3V788h-3zM1318 769h3V788h-3zM1325 781h3V788h-3zM1329 775.3h3V788h-3zM1332 765h3V788h-3zM1343 773h3V788h-3zM1346 763h3V788h-3zM1349 775.3h3V788h-3zM1356 779h3V788h-3zM1360 779h3V788h-3zM1363 778h3V788h-3zM1367 772h3V788h-3zM1374 776.3h3V788h-3zM1377 767.3h3V788h-3zM1381 760h3V788h-3zM1391 762h3V788h-3zM1395 761.3h3V788h-3zM1405 777h3V788h-3zM1412 768h3V788h-3zM1415 781h3V788h-3zM1422 782h3V788h-3zM1426 779h3V788h-3zM1429 783h3V788h-3zM1436 777h3V788h-3zM1471 748h3V788h-3zM1478 774h3V788h-3zM1481 780h3V788h-3zM1488 766.3h3V788h-3zM1492 781h3V788h-3zM1498 775h3V788h-3zM1505 781h3V788h-3zM1516 780h3V788h-3zM1519 764h3V788h-3zM1523 777.3h3V788h-3zM1540 781h3V788h-3zM1543 778h3V788h-3zM1568 782h3V788h-3zM1571 784h3V788h-3zM1575 784h3V788h-3zM1585 781h3V788h-3zM1606 781h3V788h-3zM1616 775h3V788h-3z" fill="#2b5bd0"/>
<path d="M2 783h3V788h-3zM12 786h3V788h-3zM16 784h3V788h-3zM23 782h3V788h-3zM26 783h3V788h-3zM68 779.3h3V788h-3zM78 777.3h3V788h-3zM89 781.3h3V788h-3zM109 778.7h3V788h-3zM120 771h3V788h-3zM134 775.3h3V788h-3zM144 776h3V788h-3zM161 780h3V788h-3zM165 781h3V788h-3zM172 786.5h3V788h-3zM179 777.3h3V788h-3zM189 776.3h3V788h-3zM199 771h3V788h-3zM213 774.7h3V788h-3zM224 771.3h3V788h-3zM227 778h3V788h-3zM231 780.7h3V788h-3zM234 780.7h3V788h-3zM244 781.3h3V788h-3zM258 768h3V788h-3zM272 759h3V788h-3zM276 775.3h3V788h-3zM283 776.3h3V788h-3zM286 773h3V788h-3zM303 767h3V788h-3zM321 770h3V788h-3zM324 779.7h3V788h-3zM331 775h3V788h-3zM335 747.3h3V788h-3zM338 783h3V788h-3zM345 776.3h3V788h-3zM352 770h3V788h-3zM355 753h3V788h-3zM359 776.3h3V788h-3zM366 772h3V788h-3zM369 774h3V788h-3zM383 782.7h3V788h-3zM386 783.7h3V788h-3zM390 779.7h3V788h-3zM393 779.7h3V788h-3zM428 766.3h3V788h-3zM431 783h3V788h-3zM456 782h3V788h-3zM463 778.7h3V788h-3zM473 776.3h3V788h-3zM480 781.3h3V788h-3zM508 763h3V788h-3zM525 776.3h3V788h-3zM535 761h3V788h-3zM539 773h3V788h-3zM549 772h3V788h-3zM553 771.3h3V788h-3zM577 769h3V788h-3zM580 774h3V788h-3zM584 764h3V788h-3zM598 771h3V788h-3zM601 782h3V788h-3zM612 774h3V788h-3zM619 781h3V788h-3zM632 775.3h3V788h-3zM650 783h3V788h-3zM657 769h3V788h-3zM664 778.7h3V788h-3zM688 775.3h3V788h-3zM691 774h3V788h-3zM712 783h3V788h-3zM719 778.7h3V788h-3zM733 778.7h3V788h-3zM736 778h3V788h-3zM740 759h3V788h-3zM743 782h3V788h-3zM754 779.7h3V788h-3zM761 783h3V788h-3zM764 782h3V788h-3zM768 771.3h3V788h-3zM771 771.3h3V788h-3zM774 783h3V788h-3zM785 781h3V788h-3zM788 780h3V788h-3zM792 786.5h3V788h-3zM795 786.5h3V788h-3zM799 785h3V788h-3zM813 779h3V788h-3zM816 767.3h3V788h-3zM819 776.3h3V788h-3zM826 781h3V788h-3zM830 781h3V788h-3zM837 782h3V788h-3zM844 780h3V788h-3zM865 778h3V788h-3zM868 783h3V788h-3zM878 772h3V788h-3zM882 778h3V788h-3zM889 784h3V788h-3zM892 778h3V788h-3zM899 782h3V788h-3zM910 780h3V788h-3zM913 782h3V788h-3zM916 782h3V788h-3zM920 784h3V788h-3zM937 785h3V788h-3zM941 782h3V788h-3zM955 785h3V788h-3zM958 784h3V788h-3zM962 784h3V788h-3zM979 781h3V788h-3zM993 784h3V788h-3zM1000 781h3V788h-3zM1007 782h3V788h-3zM1010 782h3V788h-3zM1013 785h3V788h-3zM1020 778h3V788h-3zM1024 785h3V788h-3zM1031 784h3V788h-3zM1045 785h3V788h-3zM1048 781h3V788h-3zM1052 781h3V788h-3zM1055 781h3V788h-3zM1062 783h3V788h-3zM1065 775h3V788h-3zM1069 779h3V788h-3zM1072 774h3V788h-3zM1083 773h3V788h-3zM1086 781h3V788h-3zM1100 783h3V788h-3zM1107 784h3V788h-3zM1110 784h3V788h-3zM1124 775.3h3V788h-3zM1131 775h3V788h-3zM1135 781h3V788h-3zM1138 777.3h3V788h-3zM1142 765.3h3V788h-3zM1149 777.3h3V788h-3zM1159 771h3V788h-3zM1166 782h3V788h-3zM1169 784h3V788h-3zM1173 773h3V788h-3zM1176 769h3V788h-3zM1180 780h3V788h-3zM1190 778h3V788h-3zM1197 784h3V788h-3zM1228 785h3V788h-3zM1232 783h3V788h-3zM1242 781h3V788h-3zM1252 783h3V788h-3zM1259 784h3V788h-3zM1266 780h3V788h-3zM1270 782h3V788h-3zM1273 786h3V788h-3zM1280 778h3V788h-3zM1291 782h3V788h-3zM1298 781h3V788h-3zM1311 771h3V788h-3zM1315 771h3V788h-3zM1322 779h3V788h-3zM1336 779h3V788h-3zM1353 777.3h3V788h-3zM1384 780h3V788h-3zM1388 781h3V788h-3zM1398 781h3V788h-3zM1408 770h3V788h-3zM1419 782h3V788h-3zM1440 777h3V788h-3zM1443 775.3h3V788h-3zM1446 782h3V788h-3zM1450 782h3V788h-3zM1453 781h3V788h-3zM1457 764h3V788h-3zM1460 773h3V788h-3zM1467 752h3V788h-3zM1474 772h3V788h-3zM1485 775.3h3V788h-3zM1502 772h3V788h-3zM1509 783h3V788h-3zM1512 780h3V788h-3zM1530 776.3h3V788h-3zM1533 769h3V788h-3zM1537 778h3V788h-3zM1547 780h3V788h-3zM1550 781h3V788h-3zM1554 774h3V788h-3zM1561 780h3V788h-3zM1564 780h3V788h-3zM1578 782h3V788h-3zM1582 779h3V788h-3zM1592 776.3h3V788h-3zM1595 768h3V788h-3zM1599 775.3h3V788h-3zM1602 773h3V788h-3zM1609 773h3V788h-3zM1613 765h3V788h-3z" fill="#e55f28"/>
<path d="M2 626.7h1V639h-1zM5 632h1V643h-1zM9 625.7h1V631.4h-1zM12 624h1V626h-1zM16 624.8h1V635h-1zM19 632h1V634h-1zM23 632h1V637h-1zM26 636h1V639.6h-1zM33 619h1V628.6h-1zM37 603.4h1V619.6h-1zM40 597h1V604.8h-1zM44 594h1V599h-1zM47 591.4h1V596h-1zM50 576h1V592h-1zM54 557h1V578h-1zM57 550.5h1V558h-1zM64 561h1V568.6h-1zM68 561h1V574h-1zM71 563.8h1V572.4h-1zM75 562h1V564h-1zM78 563h1V579h-1zM82 577h1V578.6h-1zM85 568h1V577.5h-1zM89 567h1V569.5h-1zM95 537h1V547.6h-1zM99 534h1V540h-1zM102 533h1V535h-1zM106 523h1V533h-1zM109 521.9h1V523.5h-1zM113 507.6h1V522.3h-1zM116 507.7h1V509.3h-1zM120 508h1V514h-1zM127 507h1V508.6h-1zM130 499h1V508.6h-1zM134 500h1V508.6h-1zM137 500h1V508.6h-1zM141 494.9h1V500.6h-1zM144 495.2h1V520h-1zM147 509.5h1V519.6h-1zM151 508.4h1V510.1h-1zM158 501h1V514.7h-1zM161 501h1V504.8h-1zM165 502.9h1V516.6h-1zM168 514.3h1V517.7h-1zM172 514.3h1V519.6h-1zM175 510h1V520h-1zM179 510.9h1V513.9h-1zM182 508.4h1V510.1h-1zM189 502.9h1V510.5h-1zM192 483h1V509.5h-1zM196 441h1V484h-1zM199 442h1V448h-1zM203 444h1V449.6h-1zM206 438h1V446h-1zM210 434h1V439h-1zM213 433h1V442.4h-1zM220 415h1V422.4h-1zM224 414h1V421.6h-1zM227 421h1V434.4h-1zM231 435h1V438.4h-1zM234 436.6h1V445h-1zM238 444.4h1V446h-1zM241 425h1V445.4h-1zM244 426h1V432.4h-1zM251 391h1V416h-1zM255 373h1V391.6h-1zM258 372.4h1V393.6h-1zM262 371h1V395h-1zM265 362h1V372.4h-1zM269 359h1V361.6h-1zM272 359h1V370h-1zM276 369h1V373.6h-1zM283 365.6h1V368.6h-1zM286 370h1V381h-1zM289 365h1V381h-1zM293 359h1V365.6h-1zM296 347h1V360.6h-1zM300 345.9h1V347.5h-1zM303 346.4h1V371h-1zM307 366h1V369.6h-1zM314 369.6h1V380.6h-1zM317 332h1V370h-1zM321 331h1V343.6h-1zM324 343h1V344.6h-1zM328 321h1V343.6h-1zM331 320h1V326h-1zM335 326h1V334h-1zM338 333.6h1V343.6h-1zM345 331h1V346.4h-1zM348 345.3h1V346.9h-1zM352 345.6h1V387.4h-1zM355 384h1V399.4h-1zM359 397.4h1V409h-1zM362 406h1V409.6h-1zM366 406h1V415.6h-1zM369 415h1V424h-1zM376 399h1V407.6h-1zM380 394h1V401.6h-1zM383 395h1V408h-1zM386 410h1V419h-1zM390 418h1V433h-1zM393 432h1V438h-1zM397 435.4h1V437.6h-1zM400 436.7h1V438.3h-1zM407 403h1V430h-1zM411 397h1V404h-1zM414 384h1V393h-1zM418 369h1V384h-1zM421 353.6h1V369h-1zM425 353.5h1V355.1h-1zM428 353.6h1V365h-1zM431 366h1V367.6h-1zM452 391.7h1V393.3h-1zM456 392h1V402.4h-1zM459 396h1V402.4h-1zM463 396h1V404.4h-1zM470 380h1V389h-1zM473 380.6h1V387.4h-1zM477 386.2h1V387.8h-1zM480 386h1V393.6h-1zM483 384.4h1V393h-1zM487 353.6h1V384h-1zM490 348h1V354.4h-1zM494 346h1V351h-1zM501 298h1V338h-1zM504 262.4h1V298h-1zM508 261h1V281h-1zM511 265h1V282h-1zM515 239h1V266h-1zM518 239h1V240.6h-1zM522 229h1V239h-1zM525 227h1V233.6h-1zM532 211h1V224h-1zM535 212h1V226h-1zM539 223h1V241h-1zM542 239h1V241h-1zM546 222h1V240h-1zM549 221.6h1V237h-1zM553 236h1V243h-1zM556 240h1V242.6h-1zM563 216h1V246.6h-1zM567 199h1V216.6h-1zM570 195h1V199h-1zM574 186h1V195h-1zM577 186.4h1V199h-1zM580 199h1V208h-1zM584 206h1V213.6h-1zM587 206h1V211h-1zM594 215.6h1V224h-1zM598 215h1V252h-1zM601 250.9h1V252.5h-1zM605 252h1V257h-1zM608 251h1V257h-1zM612 249h1V265h-1zM615 249h1V264h-1zM619 249h1V251h-1zM625 190h1V239h-1zM629 155h1V189h-1zM632 156h1V162h-1zM636 160.2h1V161.8h-1zM639 145h1V162h-1zM643 141h1V145.6h-1zM646 138h1V142.4h-1zM650 137.6h1V142.6h-1zM657 142h1V144.4h-1zM660 129h1V145h-1zM664 129.1h1V130.7h-1zM667 130.2h1V131.8h-1zM671 129h1V132h-1zM674 117h1V131h-1zM677 106h1V117h-1zM681 102.5h1V104.1h-1zM688 99h1V113h-1zM691 113h1V126h-1zM695 113h1V126h-1zM698 111.2h1V112.8h-1zM702 95h1V113h-1zM705 91.6h1V95h-1zM709 83.6h1V94h-1zM712 83h1V91h-1zM719 87h1V92h-1zM722 90.2h1V91.8h-1zM726 76h1V92.6h-1zM729 71.6h1V75h-1zM733 71h1V93.6h-1zM736 92.6h1V99h-1zM740 97.6h1V139h-1zM743 142h1V144.6h-1zM750 132h1V137h-1zM754 132h1V155.6h-1zM757 153h1V155h-1zM761 152h1V162.4h-1zM764 162h1V167h-1zM768 166h1V188h-1zM771 186h1V196h-1zM774 192h1V200h-1zM781 168h1V196h-1zM785 166.6h1V186h-1zM788 185h1V194h-1zM792 192.4h1V199h-1zM795 193h1V203h-1zM799 202h1V211h-1zM802 212.2h1V213.8h-1zM806 212h1V215h-1zM813 221h1V241.6h-1zM816 241h1V266h-1zM819 265h1V275.6h-1zM823 260h1V276h-1zM826 259h1V271h-1zM830 271.6h1V277.6h-1zM833 275h1V277.6h-1zM837 274.4h1V277.6h-1zM844 296h1V307h-1zM847 297h1V305.6h-1zM851 297.2h1V298.8h-1zM854 297h1V299h-1zM858 285h1V298.6h-1zM861 283.9h1V285.5h-1zM865 284.4h1V292.6h-1zM868 289h1V305h-1zM875 272h1V304h-1zM878 272h1V309.6h-1zM882 307.6h1V320h-1zM885 294h1V319h-1zM889 293.6h1V320.6h-1zM892 319.6h1V337h-1zM896 330h1V338h-1zM899 329h1V341h-1zM906 320.6h1V330.6h-1zM910 320.6h1V337h-1zM913 335h1V353h-1zM916 352.6h1V357h-1zM920 357h1V366h-1zM923 358h1V367h-1zM927 343h1V359h-1zM930 343.6h1V347h-1zM937 340h1V350h-1zM941 347.6h1V367h-1zM944 358h1V367h-1zM948 335h1V360h-1zM951 321.6h1V335h-1zM955 321.6h1V330h-1zM958 329.4h1V331.4h-1zM962 332h1V335h-1zM968 307h1V318h-1zM972 284.4h1V307.4h-1zM975 266h1V285.6h-1zM979 266h1V268.6h-1zM982 262.4h1V268h-1zM986 257h1V263h-1zM989 245.6h1V257.6h-1zM993 245.6h1V257.6h-1zM1000 237h1V261h-1zM1003 244h1V261h-1zM1007 244h1V247h-1zM1010 247h1V258.6h-1zM1013 258h1V264h-1zM1017 261.2h1V262.8h-1zM1020 262h1V276h-1zM1024 275h1V281h-1zM1031 273h1V292h-1zM1034 289.6h1V292.4h-1zM1038 279.6h1V290.6h-1zM1041 268h1V280.6h-1zM1045 268h1V276h-1zM1048 274h1V291h-1zM1052 290h1V294h-1zM1055 296h1V309h-1zM1062 319h1V324h-1zM1065 323.6h1V347h-1zM1069 341.6h1V372h-1zM1072 370h1V389h-1zM1076 382h1V388.6h-1zM1079 377.6h1V385h-1zM1083 377.6h1V398h-1zM1086 397h1V405.6h-1zM1093 391h1V418h-1zM1097 374h1V389.6h-1zM1100 374h1V389h-1zM1104 385.6h1V390h-1zM1107 384h1V390h-1zM1110 388h1V399h-1zM1114 396.2h1V397.8h-1zM1117 390h1V395h-1zM1124 417h1V448h-1zM1128 433h1V446h-1zM1131 434h1V435.6h-1zM1135 438h1V444h-1zM1138 444h1V455.6h-1zM1142 455h1V483h-1zM1145 465.6h1V483h-1zM1149 466h1V481.6h-1zM1155 457h1V474.4h-1zM1159 458h1V475.6h-1zM1162 468h1V478.6h-1zM1166 468h1V470h-1zM1169 469.4h1V479.6h-1zM1173 478h1V506h-1zM1176 506h1V520h-1zM1180 520h1V528.4h-1zM1187 490.6h1V501.6h-1zM1190 491h1V503.6h-1zM1194 494.4h1V503.6h-1zM1197 494.4h1V503h-1zM1201 501h1V503.6h-1zM1204 499h1V501h-1zM1207 487h1V501.6h-1zM1211 484.9h1V486.5h-1zM1218 470h1V485h-1zM1221 452.6h1V471h-1zM1225 441.6h1V456.6h-1zM1228 442h1V449h-1zM1232 451h1V468h-1zM1235 466.2h1V467.8h-1zM1239 468.2h1V469.8h-1zM1242 470h1V477.6h-1zM1249 423.6h1V459.6h-1zM1252 424h1V429h-1zM1256 428.6h1V430.6h-1zM1259 430h1V440.6h-1zM1263 432h1V441.6h-1zM1266 432.6h1V441.6h-1zM1270 441h1V445.6h-1zM1273 445h1V453.6h-1zM1280 477h1V501.6h-1zM1284 499h1V501.6h-1zM1287 495.6h1V497.6h-1zM1291 496h1V501.6h-1zM1294 496.6h1V501.6h-1zM1298 495.6h1V500h-1zM1301 486h1V499.6h-1zM1304 462h1V486h-1zM1311 462h1V475.6h-1zM1315 472.4h1V474.4h-1zM1318 437h1V473.6h-1zM1322 436h1V446.6h-1zM1325 440h1V445.6h-1zM1329 437.6h1V440.4h-1zM1332 429h1V437.6h-1zM1336 427h1V436.6h-1zM1343 409h1V432h-1zM1346 392h1V408h-1zM1349 375h1V392.4h-1zM1353 371.6h1V381h-1zM1356 370h1V379.6h-1zM1360 370.2h1V371.8h-1zM1363 371.2h1V372.8h-1zM1367 365h1V373.6h-1zM1374 360.6h1V367.6h-1zM1377 337h1V362h-1zM1381 318h1V333.6h-1zM1384 318h1V324.4h-1zM1388 323.6h1V327h-1zM1391 296h1V328h-1zM1395 271h1V298h-1zM1398 271h1V293.6h-1zM1405 277.7h1V279.3h-1zM1408 278h1V302h-1zM1412 263h1V303h-1zM1415 255.6h1V263.6h-1zM1419 255.6h1V271.6h-1zM1422 267.6h1V274.4h-1zM1426 267.7h1V269.3h-1zM1429 264.4h1V266.4h-1zM1436 286h1V293.6h-1zM1440 286h1V292.6h-1zM1443 292h1V308.6h-1zM1446 307.6h1V314.4h-1zM1450 314h1V320h-1zM1453 319h1V328.6h-1zM1457 328.6h1V355.6h-1zM1460 355.6h1V358h-1zM1467 366h1V435h-1zM1471 402h1V435h-1zM1474 407h1V425h-1zM1478 412h1V425h-1zM1481 406h1V412.4h-1zM1485 406h1V412.4h-1zM1488 408h1V412.4h-1zM1492 410.6h1V415.6h-1zM1498 409h1V428.6h-1zM1502 408h1V415h-1zM1505 411.6h1V414.4h-1zM1509 412h1V419.6h-1zM1512 419h1V427.6h-1zM1516 408.6h1V427h-1zM1519 388.6h1V409h-1zM1523 369.4h1V383.6h-1zM1530 369h1V384h-1zM1533 380h1V404.6h-1zM1537 404h1V412h-1zM1540 407h1V413h-1zM1543 390h1V407h-1zM1547 391h1V397h-1zM1550 397h1V399h-1zM1554 391h1V408h-1zM1561 383h1V395h-1zM1564 394h1V409h-1zM1568 402h1V409h-1zM1571 403h1V405h-1zM1575 398.6h1V405h-1zM1578 398.6h1V410h-1zM1582 409h1V412.4h-1zM1585 408.6h1V411.6h-1zM1592 394.4h1V415.6h-1zM1595 415h1V418.6h-1zM1599 417h1V431h-1zM1602 429h1V436h-1zM1606 431h1V436h-1zM1609 431h1V443h-1zM1613 441h1V452h-1zM1616 449h1V452h-1zM2 783h1V788h-1zM5 784h1V788h-1zM9 785h1V788h-1zM12 786h1V788h-1zM16 784h1V788h-1zM19 781h1V788h-1zM23 782h1V788h-1zM26 783h1V788h-1zM33 785.3h1V788h-1zM37 780h1V788h-1zM40 782h1V788h-1zM44 784.7h1V788h-1zM47 784.7h1V788h-1zM50 781.3h1V788h-1zM54 765h1V788h-1zM57 771h1V788h-1zM64 778.7h1V788h-1zM68 779.3h1V788h-1zM71 783.3h1V788h-1zM75 783h1V788h-1zM78 777.3h1V788h-1zM82 783.3h1V788h-1zM85 771h1V788h-1zM89 781.3h1V788h-1zM95 770h1V788h-1zM99 770.3h1V788h-1zM102 778.7h1V788h-1zM106 778h1V788h-1zM109 778.7h1V788h-1zM113 766.3h1V788h-1zM116 759h1V788h-1zM120 771h1V788h-1zM127 771h1V788h-1zM130 768h1V788h-1zM134 775.3h1V788h-1zM137 780.7h1V788h-1zM141 777h1V788h-1zM144 776h1V788h-1zM147 778.7h1V788h-1zM151 780.7h1V788h-1zM158 781h1V788h-1zM161 780h1V788h-1zM165 781h1V788h-1zM168 785h1V788h-1zM172 786.5h1V788h-1zM175 786h1V788h-1zM179 777.3h1V788h-1zM182 775h1V788h-1zM189 776.3h1V788h-1zM192 771h1V788h-1zM196 756.3h1V788h-1zM199 771h1V788h-1zM203 767.3h1V788h-1zM206 775.3h1V788h-1zM210 760.3h1V788h-1zM213 774.7h1V788h-1zM220 765.3h1V788h-1zM224 771.3h1V788h-1zM227 778h1V788h-1zM231 780.7h1V788h-1zM234 780.7h1V788h-1zM238 781.3h1V788h-1zM241 770h1V788h-1zM244 781.3h1V788h-1zM251 769h1V788h-1zM255 749h1V788h-1zM258 768h1V788h-1zM262 778h1V788h-1zM265 770h1V788h-1zM269 772h1V788h-1zM272 759h1V788h-1zM276 775.3h1V788h-1zM283 776.3h1V788h-1zM286 773h1V788h-1zM289 779.7h1V788h-1zM293 774h1V788h-1zM296 770h1V788h-1zM300 778h1V788h-1zM303 767h1V788h-1zM307 780.7h1V788h-1zM314 776.3h1V788h-1zM317 769h1V788h-1zM321 770h1V788h-1zM324 779.7h1V788h-1zM328 777h1V788h-1zM331 775h1V788h-1zM335 747.3h1V788h-1zM338 783h1V788h-1zM345 776.3h1V788h-1zM348 780h1V788h-1zM352 770h1V788h-1zM355 753h1V788h-1zM359 776.3h1V788h-1zM362 774h1V788h-1zM366 772h1V788h-1zM369 774h1V788h-1zM376 775h1V788h-1zM380 775.3h1V788h-1zM383 782.7h1V788h-1zM386 783.7h1V788h-1zM390 779.7h1V788h-1zM393 779.7h1V788h-1zM397 774h1V788h-1zM400 778.7h1V788h-1zM407 780.7h1V788h-1zM411 775h1V788h-1zM414 777.3h1V788h-1zM418 774h1V788h-1zM421 767.3h1V788h-1zM425 774h1V788h-1zM428 766.3h1V788h-1zM431 783h1V788h-1zM452 786.5h1V788h-1zM456 782h1V788h-1zM459 700.3h1V788h-1zM463 778.7h1V788h-1zM470 775h1V788h-1zM473 776.3h1V788h-1zM477 782h1V788h-1zM480 781.3h1V788h-1zM483 782h1V788h-1zM487 765.3h1V788h-1zM490 755h1V788h-1zM494 784h1V788h-1zM501 758h1V788h-1zM504 746.3h1V788h-1zM508 763h1V788h-1zM511 772h1V788h-1zM515 764h1V788h-1zM518 766.3h1V788h-1zM522 746h1V788h-1zM525 776.3h1V788h-1zM532 765h1V788h-1zM535 761h1V788h-1zM539 773h1V788h-1zM542 767.3h1V788h-1zM546 777.3h1V788h-1zM549 772h1V788h-1zM553 771.3h1V788h-1zM556 780.7h1V788h-1zM563 776.3h1V788h-1zM567 759h1V788h-1zM570 775.3h1V788h-1zM574 774h1V788h-1zM577 769h1V788h-1zM580 774h1V788h-1zM584 764h1V788h-1zM587 782h1V788h-1zM594 780h1V788h-1zM598 771h1V788h-1zM601 782h1V788h-1zM605 780h1V788h-1zM608 777.3h1V788h-1zM612 774h1V788h-1zM615 776.3h1V788h-1zM619 781h1V788h-1zM625 766.3h1V788h-1zM629 759h1V788h-1zM632 775.3h1V788h-1zM636 777.3h1V788h-1zM639 775.3h1V788h-1zM643 769h1V788h-1zM646 765h1V788h-1zM650 783h1V788h-1zM657 769h1V788h-1zM660 769h1V788h-1zM664 778.7h1V788h-1zM667 780.7h1V788h-1zM671 777h1V788h-1zM674 777h1V788h-1zM677 761h1V788h-1zM681 783h1V788h-1zM688 775.3h1V788h-1zM691 774h1V788h-1zM695 780.7h1V788h-1zM698 781.3h1V788h-1zM702 779.7h1V788h-1zM705 780.7h1V788h-1zM709 777h1V788h-1zM712 783h1V788h-1zM719 778.7h1V788h-1zM722 773h1V788h-1zM726 771h1V788h-1zM729 782h1V788h-1zM733 778.7h1V788h-1zM736 778h1V788h-1zM740 759h1V788h-1zM743 782h1V788h-1zM750 777h1V788h-1zM754 779.7h1V788h-1zM757 782h1V788h-1zM761 783h1V788h-1zM764 782h1V788h-1zM768 771.3h1V788h-1zM771 771.3h1V788h-1zM774 783h1V788h-1zM781 783h1V788h-1zM785 781h1V788h-1zM788 780h1V788h-1zM792 786.5h1V788h-1zM795 786.5h1V788h-1zM799 785h1V788h-1zM802 779h1V788h-1zM806 784h1V788h-1zM813 779h1V788h-1zM816 767.3h1V788h-1zM819 776.3h1V788h-1zM823 780h1V788h-1zM826 781h1V788h-1zM830 781h1V788h-1zM833 776.3h1V788h-1zM837 782h1V788h-1zM844 780h1V788h-1zM847 780h1V788h-1zM851 782h1V788h-1zM854 784h1V788h-1zM858 782h1V788h-1zM861 781h1V788h-1zM865 778h1V788h-1zM868 783h1V788h-1zM875 779h1V788h-1zM878 772h1V788h-1zM882 778h1V788h-1zM885 783h1V788h-1zM889 784h1V788h-1zM892 778h1V788h-1zM896 775h1V788h-1zM899 782h1V788h-1zM906 781h1V788h-1zM910 780h1V788h-1zM913 782h1V788h-1zM916 782h1V788h-1zM920 784h1V788h-1zM923 783h1V788h-1zM927 779h1V788h-1zM930 775.3h1V788h-1zM937 785h1V788h-1zM941 782h1V788h-1zM944 785h1V788h-1zM948 784h1V788h-1zM951 781h1V788h-1zM955 785h1V788h-1zM958 784h1V788h-1zM962 784h1V788h-1zM968 782h1V788h-1zM972 774h1V788h-1zM975 774h1V788h-1zM979 781h1V788h-1zM982 783h1V788h-1zM986 782h1V788h-1zM989 773h1V788h-1zM993 784h1V788h-1zM1000 781h1V788h-1zM1003 779h1V788h-1zM1007 782h1V788h-1zM1010 782h1V788h-1zM1013 785h1V788h-1zM1017 785h1V788h-1zM1020 778h1V788h-1zM1024 785h1V788h-1zM1031 784h1V788h-1zM1034 784h1V788h-1zM1038 782h1V788h-1zM1041 781h1V788h-1zM1045 785h1V788h-1zM1048 781h1V788h-1zM1052 781h1V788h-1zM1055 781h1V788h-1zM1062 783h1V788h-1zM1065 775h1V788h-1zM1069 779h1V788h-1zM1072 774h1V788h-1zM1076 779h1V788h-1zM1079 783h1V788h-1zM1083 773h1V788h-1zM1086 781h1V788h-1zM1093 782h1V788h-1zM1097 779h1V788h-1zM1100 783h1V788h-1zM1104 785h1V788h-1zM1107 784h1V788h-1zM1110 784h1V788h-1zM1114 785h1V788h-1zM1117 781h1V788h-1zM1124 775.3h1V788h-1zM1128 775.3h1V788h-1zM1131 775h1V788h-1zM1135 781h1V788h-1zM1138 777.3h1V788h-1zM1142 765.3h1V788h-1zM1145 765h1V788h-1zM1149 777.3h1V788h-1zM1155 780h1V788h-1zM1159 771h1V788h-1zM1162 783h1V788h-1zM1166 782h1V788h-1zM1169 784h1V788h-1zM1173 773h1V788h-1zM1176 769h1V788h-1zM1180 780h1V788h-1zM1187 780h1V788h-1zM1190 778h1V788h-1zM1194 781h1V788h-1zM1197 784h1V788h-1zM1201 784h1V788h-1zM1204 778h1V788h-1zM1207 771h1V788h-1zM1211 780h1V788h-1zM1218 777h1V788h-1zM1221 780h1V788h-1zM1225 781h1V788h-1zM1228 785h1V788h-1zM1232 783h1V788h-1zM1235 782h1V788h-1zM1239 780h1V788h-1zM1242 781h1V788h-1zM1249 780h1V788h-1zM1252 783h1V788h-1zM1256 785h1V788h-1zM1259 784h1V788h-1zM1263 786.5h1V788h-1zM1266 780h1V788h-1zM1270 782h1V788h-1zM1273 786h1V788h-1zM1280 778h1V788h-1zM1284 780h1V788h-1zM1287 783h1V788h-1zM1291 782h1V788h-1zM1294 782h1V788h-1zM1298 781h1V788h-1zM1301 772h1V788h-1zM1304 775.3h1V788h-1zM1311 771h1V788h-1zM1315 771h1V788h-1zM1318 769h1V788h-1zM1322 779h1V788h-1zM1325 781h1V788h-1zM1329 775.3h1V788h-1zM1332 765h1V788h-1zM1336 779h1V788h-1zM1343 773h1V788h-1zM1346 763h1V788h-1zM1349 775.3h1V788h-1zM1353 777.3h1V788h-1zM1356 779h1V788h-1zM1360 779h1V788h-1zM1363 778h1V788h-1zM1367 772h1V788h-1zM1374 776.3h1V788h-1zM1377 767.3h1V788h-1zM1381 760h1V788h-1zM1384 780h1V788h-1zM1388 781h1V788h-1zM1391 762h1V788h-1zM1395 761.3h1V788h-1zM1398 781h1V788h-1zM1405 777h1V788h-1zM1408 770h1V788h-1zM1412 768h1V788h-1zM1415 781h1V788h-1zM1419 782h1V788h-1zM1422 782h1V788h-1zM1426 779h1V788h-1zM1429 783h1V788h-1zM1436 777h1V788h-1zM1440 777h1V788h-1zM1443 775.3h1V788h-1zM1446 782h1V788h-1zM1450 782h1V788h-1zM1453 781h1V788h-1zM1457 764h1V788h-1zM1460 773h1V788h-1zM1467 752h1V788h-1zM1471 748h1V788h-1zM1474 772h1V788h-1zM1478 774h1V788h-1zM1481 780h1V788h-1zM1485 775.3h1V788h-1zM1488 766.3h1V788h-1zM1492 781h1V788h-1zM1498 775h1V788h-1zM1502 772h1V788h-1zM1505 781h1V788h-1zM1509 783h1V788h-1zM1512 780h1V788h-1zM1516 780h1V788h-1zM1519 764h1V788h-1zM1523 777.3h1V788h-1zM1530 776.3h1V788h-1zM1533 769h1V788h-1zM1537 778h1V788h-1zM1540 781h1V788h-1zM1543 778h1V788h-1zM1547 780h1V788h-1zM1550 781h1V788h-1zM1554 774h1V788h-1zM1561 780h1V788h-1zM1564 780h1V788h-1zM1568 782h1V788h-1zM1571 784h1V788h-1zM1575 784h1V788h-1zM1578 782h1V788h-1zM1582 779h1V788h-1zM1585 781h1V788h-1zM1592 776.3h1V788h-1zM1595 768h1V788h-1zM1599 775.3h1V788h-1zM1602 773h1V788h-1zM1606 781h1V788h-1zM1609 773h1V788h-1zM1613 765h1V788h-1zM1616 775h1V788h-1z" fill="#fff" fill-opacity=".14"/>
<path d="M4 626.7h1V639h-1zM7 632h1V643h-1zM11 625.7h1V631.4h-1zM14 624h1V626h-1zM18 624.8h1V635h-1zM21 632h1V634h-1zM25 632h1V637h-1zM28 636h1V639.6h-1zM35 619h1V628.6h-1zM39 603.4h1V619.6h-1zM42 597h1V604.8h-1zM46 594h1V599h-1zM49 591.4h1V596h-1zM52 576h1V592h-1zM56 557h1V578h-1zM59 550.5h1V558h-1zM66 561h1V568.6h-1zM70 561h1V574h-1zM73 563.8h1V572.4h-1zM77 562h1V564h-1zM80 563h1V579h-1zM84 577h1V578.6h-1zM87 568h1V577.5h-1zM91 567h1V569.5h-1zM97 537h1V547.6h-1zM101 534h1V540h-1zM104 533h1V535h-1zM108 523h1V533h-1zM111 521.9h1V523.5h-1zM115 507.6h1V522.3h-1zM118 507.7h1V509.3h-1zM122 508h1V514h-1zM129 507h1V508.6h-1zM132 499h1V508.6h-1zM136 500h1V508.6h-1zM139 500h1V508.6h-1zM143 494.9h1V500.6h-1zM146 495.2h1V520h-1zM149 509.5h1V519.6h-1zM153 508.4h1V510.1h-1zM160 501h1V514.7h-1zM163 501h1V504.8h-1zM167 502.9h1V516.6h-1zM170 514.3h1V517.7h-1zM174 514.3h1V519.6h-1zM177 510h1V520h-1zM181 510.9h1V513.9h-1zM184 508.4h1V510.1h-1zM191 502.9h1V510.5h-1zM194 483h1V509.5h-1zM198 441h1V484h-1zM201 442h1V448h-1zM205 444h1V449.6h-1zM208 438h1V446h-1zM212 434h1V439h-1zM215 433h1V442.4h-1zM222 415h1V422.4h-1zM226 414h1V421.6h-1zM229 421h1V434.4h-1zM233 435h1V438.4h-1zM236 436.6h1V445h-1zM240 444.4h1V446h-1zM243 425h1V445.4h-1zM246 426h1V432.4h-1zM253 391h1V416h-1zM257 373h1V391.6h-1zM260 372.4h1V393.6h-1zM264 371h1V395h-1zM267 362h1V372.4h-1zM271 359h1V361.6h-1zM274 359h1V370h-1zM278 369h1V373.6h-1zM285 365.6h1V368.6h-1zM288 370h1V381h-1zM291 365h1V381h-1zM295 359h1V365.6h-1zM298 347h1V360.6h-1zM302 345.9h1V347.5h-1zM305 346.4h1V371h-1zM309 366h1V369.6h-1zM316 369.6h1V380.6h-1zM319 332h1V370h-1zM323 331h1V343.6h-1zM326 343h1V344.6h-1zM330 321h1V343.6h-1zM333 320h1V326h-1zM337 326h1V334h-1zM340 333.6h1V343.6h-1zM347 331h1V346.4h-1zM350 345.3h1V346.9h-1zM354 345.6h1V387.4h-1zM357 384h1V399.4h-1zM361 397.4h1V409h-1zM364 406h1V409.6h-1zM368 406h1V415.6h-1zM371 415h1V424h-1zM378 399h1V407.6h-1zM382 394h1V401.6h-1zM385 395h1V408h-1zM388 410h1V419h-1zM392 418h1V433h-1zM395 432h1V438h-1zM399 435.4h1V437.6h-1zM402 436.7h1V438.3h-1zM409 403h1V430h-1zM413 397h1V404h-1zM416 384h1V393h-1zM420 369h1V384h-1zM423 353.6h1V369h-1zM427 353.5h1V355.1h-1zM430 353.6h1V365h-1zM433 366h1V367.6h-1zM454 391.7h1V393.3h-1zM458 392h1V402.4h-1zM461 396h1V402.4h-1zM465 396h1V404.4h-1zM472 380h1V389h-1zM475 380.6h1V387.4h-1zM479 386.2h1V387.8h-1zM482 386h1V393.6h-1zM485 384.4h1V393h-1zM489 353.6h1V384h-1zM492 348h1V354.4h-1zM496 346h1V351h-1zM503 298h1V338h-1zM506 262.4h1V298h-1zM510 261h1V281h-1zM513 265h1V282h-1zM517 239h1V266h-1zM520 239h1V240.6h-1zM524 229h1V239h-1zM527 227h1V233.6h-1zM534 211h1V224h-1zM537 212h1V226h-1zM541 223h1V241h-1zM544 239h1V241h-1zM548 222h1V240h-1zM551 221.6h1V237h-1zM555 236h1V243h-1zM558 240h1V242.6h-1zM565 216h1V246.6h-1zM569 199h1V216.6h-1zM572 195h1V199h-1zM576 186h1V195h-1zM579 186.4h1V199h-1zM582 199h1V208h-1zM586 206h1V213.6h-1zM589 206h1V211h-1zM596 215.6h1V224h-1zM600 215h1V252h-1zM603 250.9h1V252.5h-1zM607 252h1V257h-1zM610 251h1V257h-1zM614 249h1V265h-1zM617 249h1V264h-1zM621 249h1V251h-1zM627 190h1V239h-1zM631 155h1V189h-1zM634 156h1V162h-1zM638 160.2h1V161.8h-1zM641 145h1V162h-1zM645 141h1V145.6h-1zM648 138h1V142.4h-1zM652 137.6h1V142.6h-1zM659 142h1V144.4h-1zM662 129h1V145h-1zM666 129.1h1V130.7h-1zM669 130.2h1V131.8h-1zM673 129h1V132h-1zM676 117h1V131h-1zM679 106h1V117h-1zM683 102.5h1V104.1h-1zM690 99h1V113h-1zM693 113h1V126h-1zM697 113h1V126h-1zM700 111.2h1V112.8h-1zM704 95h1V113h-1zM707 91.6h1V95h-1zM711 83.6h1V94h-1zM714 83h1V91h-1zM721 87h1V92h-1zM724 90.2h1V91.8h-1zM728 76h1V92.6h-1zM731 71.6h1V75h-1zM735 71h1V93.6h-1zM738 92.6h1V99h-1zM742 97.6h1V139h-1zM745 142h1V144.6h-1zM752 132h1V137h-1zM756 132h1V155.6h-1zM759 153h1V155h-1zM763 152h1V162.4h-1zM766 162h1V167h-1zM770 166h1V188h-1zM773 186h1V196h-1zM776 192h1V200h-1zM783 168h1V196h-1zM787 166.6h1V186h-1zM790 185h1V194h-1zM794 192.4h1V199h-1zM797 193h1V203h-1zM801 202h1V211h-1zM804 212.2h1V213.8h-1zM808 212h1V215h-1zM815 221h1V241.6h-1zM818 241h1V266h-1zM821 265h1V275.6h-1zM825 260h1V276h-1zM828 259h1V271h-1zM832 271.6h1V277.6h-1zM835 275h1V277.6h-1zM839 274.4h1V277.6h-1zM846 296h1V307h-1zM849 297h1V305.6h-1zM853 297.2h1V298.8h-1zM856 297h1V299h-1zM860 285h1V298.6h-1zM863 283.9h1V285.5h-1zM867 284.4h1V292.6h-1zM870 289h1V305h-1zM877 272h1V304h-1zM880 272h1V309.6h-1zM884 307.6h1V320h-1zM887 294h1V319h-1zM891 293.6h1V320.6h-1zM894 319.6h1V337h-1zM898 330h1V338h-1zM901 329h1V341h-1zM908 320.6h1V330.6h-1zM912 320.6h1V337h-1zM915 335h1V353h-1zM918 352.6h1V357h-1zM922 357h1V366h-1zM925 358h1V367h-1zM929 343h1V359h-1zM932 343.6h1V347h-1zM939 340h1V350h-1zM943 347.6h1V367h-1zM946 358h1V367h-1zM950 335h1V360h-1zM953 321.6h1V335h-1zM957 321.6h1V330h-1zM960 329.4h1V331.4h-1zM964 332h1V335h-1zM970 307h1V318h-1zM974 284.4h1V307.4h-1zM977 266h1V285.6h-1zM981 266h1V268.6h-1zM984 262.4h1V268h-1zM988 257h1V263h-1zM991 245.6h1V257.6h-1zM995 245.6h1V257.6h-1zM1002 237h1V261h-1zM1005 244h1V261h-1zM1009 244h1V247h-1zM1012 247h1V258.6h-1zM1015 258h1V264h-1zM1019 261.2h1V262.8h-1zM1022 262h1V276h-1zM1026 275h1V281h-1zM1033 273h1V292h-1zM1036 289.6h1V292.4h-1zM1040 279.6h1V290.6h-1zM1043 268h1V280.6h-1zM1047 268h1V276h-1zM1050 274h1V291h-1zM1054 290h1V294h-1zM1057 296h1V309h-1zM1064 319h1V324h-1zM1067 323.6h1V347h-1zM1071 341.6h1V372h-1zM1074 370h1V389h-1zM1078 382h1V388.6h-1zM1081 377.6h1V385h-1zM1085 377.6h1V398h-1zM1088 397h1V405.6h-1zM1095 391h1V418h-1zM1099 374h1V389.6h-1zM1102 374h1V389h-1zM1106 385.6h1V390h-1zM1109 384h1V390h-1zM1112 388h1V399h-1zM1116 396.2h1V397.8h-1zM1119 390h1V395h-1zM1126 417h1V448h-1zM1130 433h1V446h-1zM1133 434h1V435.6h-1zM1137 438h1V444h-1zM1140 444h1V455.6h-1zM1144 455h1V483h-1zM1147 465.6h1V483h-1zM1151 466h1V481.6h-1zM1157 457h1V474.4h-1zM1161 458h1V475.6h-1zM1164 468h1V478.6h-1zM1168 468h1V470h-1zM1171 469.4h1V479.6h-1zM1175 478h1V506h-1zM1178 506h1V520h-1zM1182 520h1V528.4h-1zM1189 490.6h1V501.6h-1zM1192 491h1V503.6h-1zM1196 494.4h1V503.6h-1zM1199 494.4h1V503h-1zM1203 501h1V503.6h-1zM1206 499h1V501h-1zM1209 487h1V501.6h-1zM1213 484.9h1V486.5h-1zM1220 470h1V485h-1zM1223 452.6h1V471h-1zM1227 441.6h1V456.6h-1zM1230 442h1V449h-1zM1234 451h1V468h-1zM1237 466.2h1V467.8h-1zM1241 468.2h1V469.8h-1zM1244 470h1V477.6h-1zM1251 423.6h1V459.6h-1zM1254 424h1V429h-1zM1258 428.6h1V430.6h-1zM1261 430h1V440.6h-1zM1265 432h1V441.6h-1zM1268 432.6h1V441.6h-1zM1272 441h1V445.6h-1zM1275 445h1V453.6h-1zM1282 477h1V501.6h-1zM1286 499h1V501.6h-1zM1289 495.6h1V497.6h-1zM1293 496h1V501.6h-1zM1296 496.6h1V501.6h-1zM1300 495.6h1V500h-1zM1303 486h1V499.6h-1zM1306 462h1V486h-1zM1313 462h1V475.6h-1zM1317 472.4h1V474.4h-1zM1320 437h1V473.6h-1zM1324 436h1V446.6h-1zM1327 440h1V445.6h-1zM1331 437.6h1V440.4h-1zM1334 429h1V437.6h-1zM1338 427h1V436.6h-1zM1345 409h1V432h-1zM1348 392h1V408h-1zM1351 375h1V392.4h-1zM1355 371.6h1V381h-1zM1358 370h1V379.6h-1zM1362 370.2h1V371.8h-1zM1365 371.2h1V372.8h-1zM1369 365h1V373.6h-1zM1376 360.6h1V367.6h-1zM1379 337h1V362h-1zM1383 318h1V333.6h-1zM1386 318h1V324.4h-1zM1390 323.6h1V327h-1zM1393 296h1V328h-1zM1397 271h1V298h-1zM1400 271h1V293.6h-1zM1407 277.7h1V279.3h-1zM1410 278h1V302h-1zM1414 263h1V303h-1zM1417 255.6h1V263.6h-1zM1421 255.6h1V271.6h-1zM1424 267.6h1V274.4h-1zM1428 267.7h1V269.3h-1zM1431 264.4h1V266.4h-1zM1438 286h1V293.6h-1zM1442 286h1V292.6h-1zM1445 292h1V308.6h-1zM1448 307.6h1V314.4h-1zM1452 314h1V320h-1zM1455 319h1V328.6h-1zM1459 328.6h1V355.6h-1zM1462 355.6h1V358h-1zM1469 366h1V435h-1zM1473 402h1V435h-1zM1476 407h1V425h-1zM1480 412h1V425h-1zM1483 406h1V412.4h-1zM1487 406h1V412.4h-1zM1490 408h1V412.4h-1zM1494 410.6h1V415.6h-1zM1500 409h1V428.6h-1zM1504 408h1V415h-1zM1507 411.6h1V414.4h-1zM1511 412h1V419.6h-1zM1514 419h1V427.6h-1zM1518 408.6h1V427h-1zM1521 388.6h1V409h-1zM1525 369.4h1V383.6h-1zM1532 369h1V384h-1zM1535 380h1V404.6h-1zM1539 404h1V412h-1zM1542 407h1V413h-1zM1545 390h1V407h-1zM1549 391h1V397h-1zM1552 397h1V399h-1zM1556 391h1V408h-1zM1563 383h1V395h-1zM1566 394h1V409h-1zM1570 402h1V409h-1zM1573 403h1V405h-1zM1577 398.6h1V405h-1zM1580 398.6h1V410h-1zM1584 409h1V412.4h-1zM1587 408.6h1V411.6h-1zM1594 394.4h1V415.6h-1zM1597 415h1V418.6h-1zM1601 417h1V431h-1zM1604 429h1V436h-1zM1608 431h1V436h-1zM1611 431h1V443h-1zM1615 441h1V452h-1zM1618 449h1V452h-1zM4 783h1V788h-1zM7 784h1V788h-1zM11 785h1V788h-1zM14 786h1V788h-1zM18 784h1V788h-1zM21 781h1V788h-1zM25 782h1V788h-1zM28 783h1V788h-1zM35 785.3h1V788h-1zM39 780h1V788h-1zM42 782h1V788h-1zM46 784.7h1V788h-1zM49 784.7h1V788h-1zM52 781.3h1V788h-1zM56 765h1V788h-1zM59 771h1V788h-1zM66 778.7h1V788h-1zM70 779.3h1V788h-1zM73 783.3h1V788h-1zM77 783h1V788h-1zM80 777.3h1V788h-1zM84 783.3h1V788h-1zM87 771h1V788h-1zM91 781.3h1V788h-1zM97 770h1V788h-1zM101 770.3h1V788h-1zM104 778.7h1V788h-1zM108 778h1V788h-1zM111 778.7h1V788h-1zM115 766.3h1V788h-1zM118 759h1V788h-1zM122 771h1V788h-1zM129 771h1V788h-1zM132 768h1V788h-1zM136 775.3h1V788h-1zM139 780.7h1V788h-1zM143 777h1V788h-1zM146 776h1V788h-1zM149 778.7h1V788h-1zM153 780.7h1V788h-1zM160 781h1V788h-1zM163 780h1V788h-1zM167 781h1V788h-1zM170 785h1V788h-1zM174 786.5h1V788h-1zM177 786h1V788h-1zM181 777.3h1V788h-1zM184 775h1V788h-1zM191 776.3h1V788h-1zM194 771h1V788h-1zM198 756.3h1V788h-1zM201 771h1V788h-1zM205 767.3h1V788h-1zM208 775.3h1V788h-1zM212 760.3h1V788h-1zM215 774.7h1V788h-1zM222 765.3h1V788h-1zM226 771.3h1V788h-1zM229 778h1V788h-1zM233 780.7h1V788h-1zM236 780.7h1V788h-1zM240 781.3h1V788h-1zM243 770h1V788h-1zM246 781.3h1V788h-1zM253 769h1V788h-1zM257 749h1V788h-1zM260 768h1V788h-1zM264 778h1V788h-1zM267 770h1V788h-1zM271 772h1V788h-1zM274 759h1V788h-1zM278 775.3h1V788h-1zM285 776.3h1V788h-1zM288 773h1V788h-1zM291 779.7h1V788h-1zM295 774h1V788h-1zM298 770h1V788h-1zM302 778h1V788h-1zM305 767h1V788h-1zM309 780.7h1V788h-1zM316 776.3h1V788h-1zM319 769h1V788h-1zM323 770h1V788h-1zM326 779.7h1V788h-1zM330 777h1V788h-1zM333 775h1V788h-1zM337 747.3h1V788h-1zM340 783h1V788h-1zM347 776.3h1V788h-1zM350 780h1V788h-1zM354 770h1V788h-1zM357 753h1V788h-1zM361 776.3h1V788h-1zM364 774h1V788h-1zM368 772h1V788h-1zM371 774h1V788h-1zM378 775h1V788h-1zM382 775.3h1V788h-1zM385 782.7h1V788h-1zM388 783.7h1V788h-1zM392 779.7h1V788h-1zM395 779.7h1V788h-1zM399 774h1V788h-1zM402 778.7h1V788h-1zM409 780.7h1V788h-1zM413 775h1V788h-1zM416 777.3h1V788h-1zM420 774h1V788h-1zM423 767.3h1V788h-1zM427 774h1V788h-1zM430 766.3h1V788h-1zM433 783h1V788h-1zM454 786.5h1V788h-1zM458 782h1V788h-1zM461 700.3h1V788h-1zM465 778.7h1V788h-1zM472 775h1V788h-1zM475 776.3h1V788h-1zM479 782h1V788h-1zM482 781.3h1V788h-1zM485 782h1V788h-1zM489 765.3h1V788h-1zM492 755h1V788h-1zM496 784h1V788h-1zM503 758h1V788h-1zM506 746.3h1V788h-1zM510 763h1V788h-1zM513 772h1V788h-1zM517 764h1V788h-1zM520 766.3h1V788h-1zM524 746h1V788h-1zM527 776.3h1V788h-1zM534 765h1V788h-1zM537 761h1V788h-1zM541 773h1V788h-1zM544 767.3h1V788h-1zM548 777.3h1V788h-1zM551 772h1V788h-1zM555 771.3h1V788h-1zM558 780.7h1V788h-1zM565 776.3h1V788h-1zM569 759h1V788h-1zM572 775.3h1V788h-1zM576 774h1V788h-1zM579 769h1V788h-1zM582 774h1V788h-1zM586 764h1V788h-1zM589 782h1V788h-1zM596 780h1V788h-1zM600 771h1V788h-1zM603 782h1V788h-1zM607 780h1V788h-1zM610 777.3h1V788h-1zM614 774h1V788h-1zM617 776.3h1V788h-1zM621 781h1V788h-1zM627 766.3h1V788h-1zM631 759h1V788h-1zM634 775.3h1V788h-1zM638 777.3h1V788h-1zM641 775.3h1V788h-1zM645 769h1V788h-1zM648 765h1V788h-1zM652 783h1V788h-1zM659 769h1V788h-1zM662 769h1V788h-1zM666 778.7h1V788h-1zM669 780.7h1V788h-1zM673 777h1V788h-1zM676 777h1V788h-1zM679 761h1V788h-1zM683 783h1V788h-1zM690 775.3h1V788h-1zM693 774h1V788h-1zM697 780.7h1V788h-1zM700 781.3h1V788h-1zM704 779.7h1V788h-1zM707 780.7h1V788h-1zM711 777h1V788h-1zM714 783h1V788h-1zM721 778.7h1V788h-1zM724 773h1V788h-1zM728 771h1V788h-1zM731 782h1V788h-1zM735 778.7h1V788h-1zM738 778h1V788h-1zM742 759h1V788h-1zM745 782h1V788h-1zM752 777h1V788h-1zM756 779.7h1V788h-1zM759 782h1V788h-1zM763 783h1V788h-1zM766 782h1V788h-1zM770 771.3h1V788h-1zM773 771.3h1V788h-1zM776 783h1V788h-1zM783 783h1V788h-1zM787 781h1V788h-1zM790 780h1V788h-1zM794 786.5h1V788h-1zM797 786.5h1V788h-1zM801 785h1V788h-1zM804 779h1V788h-1zM808 784h1V788h-1zM815 779h1V788h-1zM818 767.3h1V788h-1zM821 776.3h1V788h-1zM825 780h1V788h-1zM828 781h1V788h-1zM832 781h1V788h-1zM835 776.3h1V788h-1zM839 782h1V788h-1zM846 780h1V788h-1zM849 780h1V788h-1zM853 782h1V788h-1zM856 784h1V788h-1zM860 782h1V788h-1zM863 781h1V788h-1zM867 778h1V788h-1zM870 783h1V788h-1zM877 779h1V788h-1zM880 772h1V788h-1zM884 778h1V788h-1zM887 783h1V788h-1zM891 784h1V788h-1zM894 778h1V788h-1zM898 775h1V788h-1zM901 782h1V788h-1zM908 781h1V788h-1zM912 780h1V788h-1zM915 782h1V788h-1zM918 782h1V788h-1zM922 784h1V788h-1zM925 783h1V788h-1zM929 779h1V788h-1zM932 775.3h1V788h-1zM939 785h1V788h-1zM943 782h1V788h-1zM946 785h1V788h-1zM950 784h1V788h-1zM953 781h1V788h-1zM957 785h1V788h-1zM960 784h1V788h-1zM964 784h1V788h-1zM970 782h1V788h-1zM974 774h1V788h-1zM977 774h1V788h-1zM981 781h1V788h-1zM984 783h1V788h-1zM988 782h1V788h-1zM991 773h1V788h-1zM995 784h1V788h-1zM1002 781h1V788h-1zM1005 779h1V788h-1zM1009 782h1V788h-1zM1012 782h1V788h-1zM1015 785h1V788h-1zM1019 785h1V788h-1zM1022 778h1V788h-1zM1026 785h1V788h-1zM1033 784h1V788h-1zM1036 784h1V788h-1zM1040 782h1V788h-1zM1043 781h1V788h-1zM1047 785h1V788h-1zM1050 781h1V788h-1zM1054 781h1V788h-1zM1057 781h1V788h-1zM1064 783h1V788h-1zM1067 775h1V788h-1zM1071 779h1V788h-1zM1074 774h1V788h-1zM1078 779h1V788h-1zM1081 783h1V788h-1zM1085 773h1V788h-1zM1088 781h1V788h-1zM1095 782h1V788h-1zM1099 779h1V788h-1zM1102 783h1V788h-1zM1106 785h1V788h-1zM1109 784h1V788h-1zM1112 784h1V788h-1zM1116 785h1V788h-1zM1119 781h1V788h-1zM1126 775.3h1V788h-1zM1130 775.3h1V788h-1zM1133 775h1V788h-1zM1137 781h1V788h-1zM1140 777.3h1V788h-1zM1144 765.3h1V788h-1zM1147 765h1V788h-1zM1151 777.3h1V788h-1zM1157 780h1V788h-1zM1161 771h1V788h-1zM1164 783h1V788h-1zM1168 782h1V788h-1zM1171 784h1V788h-1zM1175 773h1V788h-1zM1178 769h1V788h-1zM1182 780h1V788h-1zM1189 780h1V788h-1zM1192 778h1V788h-1zM1196 781h1V788h-1zM1199 784h1V788h-1zM1203 784h1V788h-1zM1206 778h1V788h-1zM1209 771h1V788h-1zM1213 780h1V788h-1zM1220 777h1V788h-1zM1223 780h1V788h-1zM1227 781h1V788h-1zM1230 785h1V788h-1zM1234 783h1V788h-1zM1237 782h1V788h-1zM1241 780h1V788h-1zM1244 781h1V788h-1zM1251 780h1V788h-1zM1254 783h1V788h-1zM1258 785h1V788h-1zM1261 784h1V788h-1zM1265 786.5h1V788h-1zM1268 780h1V788h-1zM1272 782h1V788h-1zM1275 786h1V788h-1zM1282 778h1V788h-1zM1286 780h1V788h-1zM1289 783h1V788h-1zM1293 782h1V788h-1zM1296 782h1V788h-1zM1300 781h1V788h-1zM1303 772h1V788h-1zM1306 775.3h1V788h-1zM1313 771h1V788h-1zM1317 771h1V788h-1zM1320 769h1V788h-1zM1324 779h1V788h-1zM1327 781h1V788h-1zM1331 775.3h1V788h-1zM1334 765h1V788h-1zM1338 779h1V788h-1zM1345 773h1V788h-1zM1348 763h1V788h-1zM1351 775.3h1V788h-1zM1355 777.3h1V788h-1zM1358 779h1V788h-1zM1362 779h1V788h-1zM1365 778h1V788h-1zM1369 772h1V788h-1zM1376 776.3h1V788h-1zM1379 767.3h1V788h-1zM1383 760h1V788h-1zM1386 780h1V788h-1zM1390 781h1V788h-1zM1393 762h1V788h-1zM1397 761.3h1V788h-1zM1400 781h1V788h-1zM1407 777h1V788h-1zM1410 770h1V788h-1zM1414 768h1V788h-1zM1417 781h1V788h-1zM1421 782h1V788h-1zM1424 782h1V788h-1zM1428 779h1V788h-1zM1431 783h1V788h-1zM1438 777h1V788h-1zM1442 777h1V788h-1zM1445 775.3h1V788h-1zM1448 782h1V788h-1zM1452 782h1V788h-1zM1455 781h1V788h-1zM1459 764h1V788h-1zM1462 773h1V788h-1zM1469 752h1V788h-1zM1473 748h1V788h-1zM1476 772h1V788h-1zM1480 774h1V788h-1zM1483 780h1V788h-1zM1487 775.3h1V788h-1zM1490 766.3h1V788h-1zM1494 781h1V788h-1zM1500 775h1V788h-1zM1504 772h1V788h-1zM1507 781h1V788h-1zM1511 783h1V788h-1zM1514 780h1V788h-1zM1518 780h1V788h-1zM1521 764h1V788h-1zM1525 777.3h1V788h-1zM1532 776.3h1V788h-1zM1535 769h1V788h-1zM1539 778h1V788h-1zM1542 781h1V788h-1zM1545 778h1V788h-1zM1549 780h1V788h-1zM1552 781h1V788h-1zM1556 774h1V788h-1zM1563 780h1V788h-1zM1566 780h1V788h-1zM1570 782h1V788h-1zM1573 784h1V788h-1zM1577 784h1V788h-1zM1580 782h1V788h-1zM1584 779h1V788h-1zM1587 781h1V788h-1zM1594 776.3h1V788h-1zM1597 768h1V788h-1zM1601 775.3h1V788h-1zM1604 773h1V788h-1zM1608 781h1V788h-1zM1611 773h1V788h-1zM1615 765h1V788h-1zM1618 775h1V788h-1z" fill="#000" fill-opacity=".2"/>
<path d="M803 215.7L1625 266.2" stroke="#e01818" stroke-width="3" fill="none"/>
<path d="M330 658L1611 530" stroke="#e01818" stroke-width="3" fill="none"/>
<path d="M0 856C11.1 855.9 16.7 857.1 33.3 855.7C50.0 854.2 38.9 855.2 50 851.7C61.1 848.1 55.6 848.9 66.7 845C77.8 841.1 72.2 842.2 83.3 840C94.4 837.8 88.9 840.6 100 838.3C111.1 836.1 105.6 836.1 116.7 833.3C127.8 830.6 122.2 830.8 133.3 830C144.4 829.2 138.9 829.6 150 831C161.1 832.4 153.3 831.3 166.7 834.3C180.0 837.3 176.7 839.2 190 840C203.3 840.8 194.4 840.0 206.7 836.7C218.9 833.3 213.3 832.2 226.7 830C240.0 827.8 232.2 831.7 246.7 830C261.1 828.3 255.6 826.9 270 825C284.4 823.1 274.4 823.4 290 824.3C305.6 825.2 302.2 826.3 316.7 827.7C331.1 829.0 322.2 827.2 333.3 828.3C344.4 829.4 338.9 826.0 350 831C361.1 836.0 355.6 835.3 366.7 843.3C377.8 851.3 372.2 848.3 383.3 855C394.4 861.7 390.0 860.0 400 863.3C410.0 866.7 404.4 866.7 413.3 865C422.2 863.3 417.8 861.4 426.7 858.3C435.6 855.2 426.7 856.8 440 855.7C453.3 854.6 452.2 855.4 466.7 855C481.1 854.6 472.2 856.0 483.3 854.3C494.4 852.7 487.8 857.0 500 850C512.2 843.0 506.7 843.9 520 833.3C533.3 822.8 528.9 823.9 540 818.3C551.1 812.8 546.8 816.9 553.3 816.7C559.9 816.4 550.8 817.1 559.7 817.7C568.6 818.2 567.7 816.8 580 818.3C592.3 819.9 585.6 816.8 596.7 822.3C607.8 827.9 603.3 829.1 613.3 835C623.3 840.9 616.7 840.2 626.7 840C636.7 839.8 630.0 838.8 643.3 834.3C656.7 829.9 652.2 830.0 666.7 826.7C681.1 823.3 672.2 824.7 686.7 824.3C701.1 824.0 694.4 824.9 710 825.7C725.6 826.4 718.9 823.6 733.3 826.7C747.8 829.8 740.0 826.1 753.3 835C766.7 843.9 760.0 843.3 773.3 853.3C786.7 863.3 780.0 858.7 793.3 865C806.7 871.3 802.2 867.3 813.3 872.3C824.4 877.3 815.6 874.9 826.7 880C837.8 885.1 835.6 884.7 846.7 887.7C857.8 890.7 848.9 889.9 860 889C871.1 888.1 864.4 886.7 880 885C895.6 883.3 891.1 884.2 906.7 884C922.2 883.8 914.4 884.9 926.7 884.3C938.9 883.8 932.2 884.9 943.3 882.3C954.4 879.8 950.0 880.8 960 876.7C970.0 872.6 963.3 877.8 973.3 870C983.3 862.2 978.9 861.7 990 853.3C1001.1 845.0 996.7 849.1 1006.7 845C1016.7 840.9 1010.0 841.2 1020 841C1030.0 840.8 1025.6 842.1 1036.7 844.3C1047.8 846.6 1043.3 844.7 1053.3 847.7C1063.3 850.7 1057.8 847.0 1066.7 853.3C1075.6 859.7 1071.1 859.4 1080 866.7C1088.9 873.9 1083.3 870.2 1093.3 875C1103.3 879.8 1101.2 878.8 1110 881C1118.8 883.2 1109.7 879.8 1119.7 881.7C1129.7 883.6 1126.6 883.9 1140 886.7C1153.4 889.4 1144.4 888.3 1160 890C1175.6 891.7 1171.1 892.8 1186.7 891.7C1202.2 890.6 1194.4 890.6 1206.7 886.7C1218.9 882.8 1212.2 886.1 1223.3 880C1234.4 873.9 1228.9 874.7 1240 868.3C1251.1 862.0 1245.6 865.7 1256.7 861C1267.8 856.3 1263.3 856.3 1273.3 854.3C1283.3 852.3 1276.7 852.6 1286.7 855C1296.7 857.4 1293.3 859.7 1303.3 861.7C1313.3 863.7 1306.7 863.0 1316.7 861C1326.7 859.0 1322.2 859.9 1333.3 855.7C1344.4 851.4 1338.9 854.1 1350 848.3C1361.1 842.6 1355.6 843.9 1366.7 838.3C1377.8 832.8 1372.2 837.0 1383.3 831.7C1394.4 826.3 1388.9 827.3 1400 822.3C1411.1 817.3 1406.7 819.3 1416.7 816.7C1426.7 814.0 1422.2 814.3 1430 814.3C1437.8 814.3 1431.1 812.6 1440 816.7C1448.9 820.8 1446.7 819.4 1456.7 826.7C1466.7 833.9 1461.1 828.3 1470 838.3C1478.9 848.3 1474.4 846.9 1483.3 856.7C1492.2 866.4 1485.6 861.6 1496.7 867.7C1507.8 873.8 1504.4 873.7 1516.7 875C1528.9 876.3 1521.1 874.4 1533.3 871.7C1545.6 868.9 1540.0 869.2 1553.3 866.7C1566.7 864.1 1560.0 865.3 1573.3 864C1586.7 862.7 1582.2 862.6 1593.3 862.7C1604.4 862.8 1598.3 863.0 1606.7 864.3C1615.0 865.7 1614.4 865.9 1618.3 866.7" fill="none" stroke="#e09040" stroke-width="1.0" stroke-linejoin="round"/>
<path d="M0 856.7C10.0 856.5 17.3 859.0 33.3 856C49.3 853.0 45.3 852.0 53.3 846.7C61.3 841.4 53.0 841.3 60 838.3C67.0 835.3 67.7 836.2 76.7 836.7C85.7 837.2 79.0 842.0 90 840C101.0 838.0 98.3 833.5 113.3 830C128.3 826.5 128.0 827.0 140 828.3C152.0 829.6 145.3 832.3 153.3 834.3C161.3 836.3 155.7 832.0 166.7 835C177.7 838.0 179.0 844.3 190 844.3C201.0 844.3 192.3 840.3 203.3 835C214.3 829.7 213.7 827.5 226.7 826.7C239.7 825.9 233.7 834.0 246.7 832.3C259.7 830.6 257.0 823.2 270 821C283.0 818.8 280.0 823.6 290 825C300.0 826.4 295.3 823.9 303.3 825.7C311.3 827.5 307.7 830.0 316.7 831C325.7 832.0 323.3 828.0 333.3 829C343.3 830.0 342.0 829.0 350 834.3C358.0 839.6 354.0 839.0 360 846.7C366.0 854.4 363.0 855.3 370 860C377.0 864.7 374.3 859.3 383.3 862.3C392.3 865.3 391.0 869.2 400 870C409.0 870.8 406.3 869.5 413.3 865C420.3 860.5 417.3 859.8 423.3 855C429.3 850.2 425.3 850.5 433.3 849C441.3 847.5 441.0 848.2 450 850C459.0 851.8 453.3 853.7 463.3 855C473.3 856.3 472.3 857.3 483.3 854.3C494.3 851.3 491.0 853.8 500 845C509.0 836.2 503.3 835.5 513.3 825C523.3 814.5 523.3 813.5 533.3 810C543.3 806.5 538.8 810.8 546.7 813.3C554.6 815.8 550.7 817.0 559.7 818.3C568.7 819.6 566.6 815.5 576.7 817.7C586.8 819.9 584.3 819.0 593.3 825.7C602.3 832.4 598.7 833.0 606.7 840C614.7 847.0 613.0 849.0 620 849C627.0 849.0 622.0 847.0 630 840C638.0 833.0 635.7 830.7 646.7 825.7C657.7 820.7 654.7 824.3 666.7 823.3C678.7 822.3 676.7 821.3 686.7 822.3C696.7 823.3 691.0 825.7 700 826.7C709.0 827.7 706.7 825.4 716.7 825.7C726.7 826.0 724.3 822.9 733.3 827.7C742.3 832.5 738.7 834.0 746.7 841.7C754.7 849.4 751.0 845.1 760 853.3C769.0 861.5 766.7 863.3 776.7 869C786.7 874.7 782.3 869.5 793.3 872.3C804.3 875.1 803.3 874.0 813.3 878.3C823.3 882.6 816.7 882.7 826.7 886.7C836.7 890.7 837.7 890.2 846.7 891.7C855.7 893.2 849.7 893.7 856.7 891.7C863.7 889.7 861.0 887.7 870 885C879.0 882.3 875.7 883.0 886.7 882.7C897.7 882.4 895.7 883.3 906.7 884C917.7 884.7 912.3 885.9 923.3 885C934.3 884.1 933.3 885.0 943.3 881C953.3 877.0 948.7 876.5 956.7 871.7C964.7 866.9 963.0 871.5 970 865C977.0 858.5 973.0 857.5 980 850C987.0 842.5 985.3 844.0 993.3 840C1001.3 836.0 998.7 836.9 1006.7 836.7C1014.7 836.5 1012.0 836.8 1020 839.3C1028.0 841.8 1024.3 842.1 1033.3 845C1042.3 847.9 1041.0 845.8 1050 849C1059.0 852.2 1056.3 848.9 1063.3 855.7C1070.3 862.5 1066.3 863.4 1073.3 871.7C1080.3 880.0 1079.7 879.3 1086.7 883.3C1093.7 887.3 1086.8 885.5 1096.7 885C1106.6 884.5 1107.7 880.9 1119.7 881.7C1131.7 882.5 1126.6 884.5 1136.7 887.7C1146.8 890.9 1143.3 891.6 1153.3 892.3C1163.3 893.0 1161.0 889.7 1170 890C1179.0 890.3 1175.3 893.6 1183.3 893.3C1191.3 893.0 1186.7 894.0 1196.7 889C1206.7 884.0 1206.7 884.1 1216.7 876.7C1226.7 869.3 1221.0 869.3 1230 864.3C1239.0 859.3 1238.7 863.8 1246.7 860C1254.7 856.2 1249.7 855.0 1256.7 851.7C1263.7 848.4 1262.0 848.0 1270 849C1278.0 850.0 1275.3 850.4 1283.3 855C1291.3 859.6 1288.7 862.1 1296.7 864.3C1304.7 866.5 1303.0 864.6 1310 862.3C1317.0 860.0 1313.0 860.4 1320 856.7C1327.0 853.0 1325.3 853.7 1333.3 850C1341.3 846.3 1338.7 849.8 1346.7 844.3C1354.7 838.8 1351.0 837.0 1360 831.7C1369.0 826.4 1366.7 831.2 1376.7 826.7C1386.7 822.2 1384.3 821.0 1393.3 816.7C1402.3 812.4 1398.7 814.0 1406.7 812.3C1414.7 810.6 1412.0 810.0 1420 811C1428.0 812.0 1425.3 810.5 1433.3 815.7C1441.3 820.9 1438.7 819.5 1446.7 828.3C1454.7 837.1 1452.0 834.0 1460 845C1468.0 856.0 1465.3 855.5 1473.3 865C1481.3 874.5 1477.7 872.7 1486.7 876.7C1495.7 880.7 1494.3 878.3 1503.3 878.3C1512.3 878.3 1508.7 879.7 1516.7 876.7C1524.7 873.7 1520.0 872.0 1530 868.3C1540.0 864.6 1538.0 866.0 1550 864.3C1562.0 862.6 1558.0 863.2 1570 862.7C1582.0 862.2 1580.0 862.0 1590 862.7C1600.0 863.4 1594.8 863.1 1603.3 865C1611.8 866.9 1613.8 867.8 1618.3 869" fill="none" stroke="#1e8a4a" stroke-width="1.05" stroke-linejoin="round"/>
<polyline points="0,997.4 3.5,991.2 6.9,978.5 10.4,962.1 13.8,949.2 17.3,942.3 20.8,944 24.2,951.3 27.7,959.2 31.1,960.6 34.6,955.4 38.1,945.8 41.5,934.8 45,925 48.4,921.2 51.9,920.6 55.4,920.1 58.8,919.1 62.3,920.2 65.7,923.8 69.2,930.2 72.7,939.3 76.1,950 79.6,959.6 83,967.3 86.5,971.7 90,970.8 93.4,964.7 96.9,957.5 100.3,951.6 103.8,947.2 107.3,943.8 110.7,940.7 114.2,937.9 117.6,935.2 121.1,933.7 124.6,933.7 128,935.1 131.5,937.1 134.9,940 138.4,943.1 141.9,945.6 145.3,948.6 148.8,953.7 152.2,960.8 155.7,965.1 159.2,964.4 162.6,959.3 166.1,958.2 169.5,963.4 173,973.4 176.5,979.4 179.9,979.5 183.4,973.5 186.8,966.4 190.3,960.7 193.8,954.5 197.2,944.6 200.7,933.3 204.1,926.8 207.6,925.6 211.1,926.8 214.5,929 218,932.5 221.4,937.2 224.9,943.5 228.4,951.7 231.8,962.7 235.3,976 238.7,986.3 242.2,986.4 245.7,976.4 249.1,961.7 252.6,946.1 256,935.2 259.5,931.2 263,932.4 266.4,933.4 269.9,932.2 273.3,931.1 276.8,933.3 280.3,940.1 283.7,947.9 287.2,955.5 290.6,958.3 294.1,953.2 297.6,941.7 301,932.4 304.5,930.5 307.9,936 311.4,946 314.9,955.1 318.3,955.5 321.8,947.8 325.2,937.9 328.7,933.4 332.2,931.2 335.6,930.4 339.1,933.3 342.5,943.5 346,960.3 349.5,979.2 352.9,991 356.4,995.2 359.8,996.1 363.3,995.5 366.8,993.4 370.2,990.5 373.7,987.3 377.1,983.3 380.6,975.8 384.1,964.7 387.5,959.2 391,965 394.4,979 397.9,988.4 401.4,990.9 404.8,989.2 408.3,980.9 411.7,966.1 415.2,947.6 418.7,932.6 422.1,924.2 425.6,921.9 429,922.7 432.5,927.4 436,933.9 439.4,939.8 442.9,944 446.3,948 449.8,952 453.3,956.3 456.7,963.1 460.2,972.8 463.6,981.6 467.1,984.5 470.6,982 474,978 477.5,973.4 480.9,969.9 484.4,966.9 487.9,960.7 491.3,950.3 494.8,941.3 498.2,936.4 501.7,934.3 505.2,931.7 508.6,929.1 512.1,927.8 515.5,927.6 519,926.7 522.5,925 525.9,924.2 529.4,924.9 532.8,926.5 536.3,930.4 539.8,940.3 543.2,955.1 546.7,964.6 550.1,965.7 553.6,962.6 557.1,962.3 560.5,964.3 564,964.3 567.4,958 570.9,946.3 574.4,934.3 577.8,929.1 581.3,933.6 584.7,947.3 588.2,966.3 591.7,980.5 595.1,986.6 598.6,987.4 602,988.4 605.5,989.7 609,989.3 612.4,987.4 615.9,984.2 619.3,978.3 622.8,965.5 626.3,947.3 629.7,932 633.2,925.1 636.6,925.2 640.1,926.2 643.6,926.4 647,925.8 650.5,926.8 653.9,930.2 657.4,934.7 660.9,937.7 664.3,938.1 667.8,936.7 671.2,934.9 674.7,933.6 678.2,933.3 681.6,934.1 685.1,936.4 688.5,940.6 692,947.8 695.5,955.9 698.9,962.6 702.4,961.8 705.8,953.5 709.3,940.7 712.8,932.3 716.2,929.6 719.7,930.8 723.1,933.9 726.6,937.3 730.1,939 733.5,939.7 737,944.7 740.4,957.2 743.9,972.3 747.4,983.4 750.8,987.3 754.3,986.9 757.7,985.6 761.2,985.4 764.7,986 768.1,987 771.6,986.7 775,986.8 778.5,985.9 782,982.1 785.4,975.1 788.9,967.7 792.3,965.6 795.8,970.3 799.3,979.6 802.7,987 806.2,991.3 809.6,992.4 813.1,992.3 816.6,991.4 820,991 823.5,989.6 826.9,987.1 830.4,983.8 833.9,982.3 837.3,982 840.8,982.1 844.2,981.1 847.7,979.3 851.2,976.3 854.6,971.3 858.1,964.4 861.5,956.4 865,951.7 868.5,955.7 871.9,963.2 875.4,966.9 878.8,967.4 882.3,969.5 885.8,971.6 889.2,972.4 892.7,973.8 896.1,976.2 899.6,978.9 903.1,979 906.5,976.1 910,972.6 913.4,971.9 916.9,976.4 920.4,984.8 923.8,992 927.3,990.4 930.7,977 934.2,959.8 937.7,946.9 941.1,945.7 944.6,952.4 948,959.5 951.5,956 955,944.6 958.4,937.7 961.9,938.5 965.3,942 968.8,943 972.3,940 975.7,933.9 979.2,928 982.6,925.6 986.1,926.1 989.6,926.4 993,928.2 996.5,932.9 999.9,941 1003.4,950.4 1006.9,955.6 1010.3,956.2 1013.8,957.1 1017.2,963.8 1020.7,974.1 1024.2,982.4 1027.6,987.5 1031.1,990.1 1034.5,990.6 1038,987.4 1041.5,977.5 1044.9,964.1 1048.4,954.5 1051.8,956.4 1055.3,970.1 1058.8,983.9 1062.2,990.4 1065.7,991.7 1069.1,992.8 1072.6,994.4 1076.1,995.2 1079.5,994.6 1083,992.4 1086.4,990.4 1089.9,989.1 1093.4,987.3 1096.8,980.6 1100.3,965.9 1103.7,949.4 1107.2,942.2 1110.7,945.1 1114.1,954 1117.6,963 1121,969.3 1124.5,973 1128,976.2 1131.4,978.6 1134.9,980.6 1138.3,983.3 1141.8,987 1145.3,989.8 1148.7,988.7 1152.2,984 1155.6,978.3 1159.1,973.4 1162.6,967.9 1166,964.2 1169.5,963.4 1172.9,969.7 1176.4,979.5 1179.9,988.6 1183.3,990.9 1186.8,987.6 1190.2,979.3 1193.7,968.3 1197.2,956.6 1200.6,949.2 1204.1,948.1 1207.5,949.3 1211,948.2 1214.5,943.5 1217.9,939 1221.4,935.4 1224.8,931 1228.3,927 1231.8,926.9 1235.2,933.4 1238.7,947.3 1242.1,965.3 1245.6,977.5 1249.1,976.4 1252.5,963.5 1256,949.2 1259.4,939.2 1262.9,937.1 1266.4,942.3 1269.8,952.5 1273.3,967.5 1276.7,983 1280.2,991.7 1283.7,993.5 1287.1,992.7 1290.6,990.6 1294,987.7 1297.5,983.6 1301,974.1 1304.4,957.8 1307.9,944.1 1311.3,938.8 1314.8,941.2 1318.3,943.2 1321.7,943 1325.2,938.8 1328.6,933.5 1332.1,929.8 1335.6,930.1 1339,932.4 1342.5,935.4 1345.9,937.5 1349.4,937.3 1352.9,934.9 1356.3,931 1359.8,928.4 1363.2,926.7 1366.7,926.1 1370.2,926.7 1373.6,928.3 1377.1,929.6 1380.5,929.7 1384,928.9 1387.5,928.6 1390.9,928.9 1394.4,928.3 1397.8,927.7 1401.3,928.3 1404.8,930.2 1408.2,934.9 1411.7,941.1 1415.1,945.5 1418.6,943.3 1422.1,939.7 1425.5,938.4 1429,941 1432.4,946.4 1435.9,953 1439.4,961.5 1442.8,971.4 1446.3,979.8 1449.7,986 1453.2,990.3 1456.7,993.2 1460.1,995 1463.6,995.7 1467,994.2 1470.5,990 1474,984.3 1477.4,977.8 1480.9,971.3 1484.3,965.1 1487.8,959.5 1491.3,955 1494.7,952.3 1498.2,951.2 1501.6,951 1505.1,951.3 1508.6,953.1 1512,957.6 1515.5,962.9 1518.9,961.9 1522.4,951.4 1525.9,938 1529.3,931.3 1532.8,935.5 1536.2,946.5 1539.7,961.2 1543.2,972.5 1546.6,976 1550.1,971.2 1553.5,965.7 1557,964 1560.5,965.5 1563.9,968.4 1567.4,973.2 1570.8,978 1574.3,980.4 1577.8,980.2 1581.2,979.8 1584.7,982.3 1588.1,986.6 1591.6,990.2 1595.1,991.3 1598.5,990.5 1602,989.4 1605.4,989.5 1608.9,990.1 1612.4,989.7 1615.8,987.9" fill="none" stroke="#e0952e" stroke-width="1.0" stroke-linejoin="round" />
<polyline points="0,998 6.7,964.7 11.7,943 16.7,938.7 26.7,966.3 35,948 40,928 45,918 50,923 55,917.3 61.7,921.3 66.7,929.7 76.7,961.3 85,976.3 96.7,951.3 106.7,941.3 118.3,932.3 128.3,936.3 136.7,944.7 143.3,948 153.3,969.7 163.3,953 173.3,984 180,976.3 185,961.3 190,959.7 200,924 211.7,928 221.7,941.3 230,964.7 235,989.7 238.3,993 243.3,974.7 253.3,928.7 260,933 266.7,934 271.7,927.3 280,946.3 288.3,964.7 296.7,933 301.7,925.3 306.7,941.3 315,964.7 320,939.7 325,933 335,928.7 340,941.3 348.3,993 358.3,997.3 366.7,991.3 376.7,981.3 385,949.7 393.3,989.7 398.3,992.3 405,987.3 411.7,949.7 416.7,924.7 423.3,920.7 428.3,923 433.3,936.3 443.3,948 453.3,959.7 461.7,988 470,979.7 478.3,968 483.3,968 491.7,938 500,934 506.7,927.3 515,928 521.7,923 530,926.3 535,929.7 543.3,971.3 550,961.3 555,961.3 559.7,968 565,959.7 571.7,929.7 575,925.3 580,934.7 588.3,986.3 596.7,987.3 606.7,991.3 610,985.3 615,984.7 620,968 626.7,925.3 631.7,924 638.3,927.3 647.3,924.7 655,936.3 660,939.7 666.7,935.3 675,932.3 683.3,936.3 688.3,944.7 693.3,959.7 699.3,968 705,944.7 710,927.3 715,930.7 720,931.3 723.3,939.7 728.3,939.7 731.7,936.3 736.7,951.3 741.7,978 745,988.7 756.7,985.3 758.3,983 761.7,987.3 773.3,986.3 776.7,988 783.3,973 789.3,959.7 793.3,972 800,989.7 805,993 813.3,992 816.7,989.7 820,992 825,985.3 831.7,980.7 835,983 843.3,980.7 850,975.3 856.7,961.3 861.7,948 864,947.3 869.3,969.7 875,964.7 880,971.3 890,973 896.7,979.7 900,981.3 906.7,971.3 911.7,970.7 915,976.3 918.3,989.7 922.7,997.3 926.7,988 931.7,951.3 938.3,939.7 946,968.7 952.7,939.7 956,933 962.7,944.7 970,941.3 976.7,924 981.7,926.3 990,926.3 995,934.7 1003.3,959.7 1008.3,954.7 1011.7,954 1016.7,972 1021.7,985.3 1026.7,989.7 1031.7,992 1036.7,988 1041.7,963 1046.7,947.3 1050,954.7 1055,988 1060,991.3 1065,992 1073.3,996.3 1078.3,994 1083.3,989.7 1090,988.7 1095,983 1099.3,951.3 1103.3,937.3 1108.3,944.7 1115,966.3 1119.7,971.3 1126.7,978 1135,982 1143.3,993 1150,983 1156.7,971.3 1160,969.7 1163.3,959.7 1170,966.3 1175,987.3 1180.7,994.7 1188.3,978 1196,948 1201.7,946.3 1206,953 1213.3,939.7 1220,934.7 1225,925.3 1230,924.7 1235,941.3 1243.3,989.7 1250,961.3 1257.3,931.3 1262.7,940.7 1266.7,948 1271.7,974.7 1275,993 1283.3,994 1290,988.7 1296.7,983 1301.7,958 1305,935.3 1316.7,945.3 1321.7,941.3 1326.7,929.7 1333.3,928.7 1336.7,934 1346.7,939.7 1350,934 1357.3,927.3 1365,925.3 1375,930.7 1383.3,928 1390,929.7 1395,926.3 1406.7,933 1409.3,948.7 1416.7,943 1421.7,935.3 1426.7,941.3 1435,956.3 1441.7,978 1450,991.3 1461.7,997.3 1468.3,989.7 1473.3,979.7 1483.3,961.3 1490,952 1498.3,950.7 1506.7,952 1513.3,966.3 1516.7,966.3 1524,928.7 1530,931.3 1535,954.7 1541.7,981.3 1546.7,973 1551.7,960.7 1556.7,966.3 1561.7,966.3 1566.7,979.7 1570,978 1572.7,984 1576.7,977.3 1581.7,981.3 1586.7,989.7 1593.3,993 1596.7,988.7 1603.3,989.7 1610,990.7 1615,986.3 1618.3,982" fill="none" stroke="#4a148c" stroke-width="1.05" stroke-linejoin="round" />
<g font-family='"Liberation Sans", sans-serif' font-size="10" fill="#5a5a5a" text-anchor="middle" letter-spacing="0.6">
<text x="67.3" y="672">Τετ</text>
<text x="130.3" y="672">Παρ</text>
<text x="192.3" y="672">Τρι</text>
<text x="254.3" y="672">Πεμ</text>
<text x="317.3" y="672">Δευ</text>
<text x="379.3" y="672">Τετ</text>
<text x="441.3" y="672">Παρ</text>
<text x="504.3" y="672">Τρι</text>
<text x="566.3" y="672">Πεμ</text>
<text x="628.3" y="672">Αυγ</text>
<text x="691.3" y="672">Τετ</text>
<text x="753.3" y="672">Παρ</text>
<text x="816.3" y="672">Τρι</text>
<text x="878.3" y="672">Πεμ</text>
<text x="940.3" y="672">Δευ</text>
<text x="1003.3" y="672">Τετ</text>
<text x="1065.3" y="672">Παρ</text>
<text x="1127.3" y="672">Τρι</text>
<text x="1190.3" y="672">Πεμ</text>
<text x="1252.3" y="672">Δευ</text>
<text x="1314.3" y="672">Σεπ</text>
<text x="1377.3" y="672">Παρ</text>
<text x="1439.3" y="672">Τρι</text>
<text x="1501.3" y="672">Πεμ</text>
<text x="1564.3" y="672">Δευ</text>
</g>
<g font-family='"Liberation Sans", sans-serif' font-size="9.6" fill="#505050" letter-spacing="0.4">
<text x="1630.5" y="89.7">1.780</text>
<text x="1630.5" y="123.2">1.760</text>
<text x="1630.5" y="156.7">1.740</text>
<text x="1630.5" y="190.2">1.720</text>
<text x="1630.5" y="223.7">1.700</text>
<text x="1630.5" y="257.2">1.680</text>
<text x="1630.5" y="290.7">1.660</text>
<text x="1630.5" y="324.2">1.640</text>
<text x="1630.5" y="357.7">1.620</text>
<text x="1630.5" y="391.2">1.600</text>
<text x="1630.5" y="424.7">1.580</text>
<text x="1630.5" y="458.2">1.560</text>
<text x="1630.5" y="491.7">1.540</text>
<text x="1630.5" y="525.2">1.520</text>
<text x="1630.5" y="558.7">1.500</text>
<text x="1630.5" y="592.2">1.480</text>
<text x="1630.5" y="625.7">1.460</text>
<text x="1630.5" y="720.2">10 εκ</text><text x="1630.5" y="757.2">5 εκ</text>
<text x="1630" y="823.2">20</text><text x="1629.5" y="895.2">-20</text><text x="1629.5" y="962.7">50</text>
</g>
<g font-family='"Liberation Sans", sans-serif' font-size="12" fill="#a0a0a0" text-anchor="middle">
<text x="1673" y="688.5">×</text>
<text x="1673" y="803">×</text>
<text x="1673" y="913.5">×</text>
</g>
<path d="M1627 379.3l3 -3V374.1H1680V384.6H1630v-2.3z" fill="#8c2433"/>
<text x="1633" y="382.9" font-family='"Liberation Sans", sans-serif' font-size="10" fill="#fff" letter-spacing="0.3">1.605,413</text>
<path d="M1627 449.3l3 -3V444.1H1677V454.6H1630v-2.3z" fill="#5b8fd9"/>
<text x="1633" y="452.9" font-family='"Liberation Sans", sans-serif' font-size="10" fill="#fff" letter-spacing="0.3">1.563,36</text>
<path d="M1627 774.3l3 -3V769H1669V779.5H1630v-2.3z" fill="#5b82d8"/>
<text x="1633" y="777.9" font-family='"Liberation Sans", sans-serif' font-size="10" fill="#fff" letter-spacing="0.3">2,09 εκ</text>
<path d="M1627 866l3 -3V860.8H1670.5V871.2H1630v-2.3z" fill="#e09a40"/>
<text x="1633" y="869.6" font-family='"Liberation Sans", sans-serif' font-size="10" fill="#fff" letter-spacing="0.3">-6,2499</text>
<path d="M1627 868.8l3 -3V863H1670.5V874.5H1630v-2.3z" fill="#1e8a4a"/>
<text x="1633" y="872.4" font-family='"Liberation Sans", sans-serif' font-size="10" fill="#fff" letter-spacing="0.3">-8,0656</text>
<path d="M1627 987l3 -3V981.8H1674V992.2H1630v-2.3z" fill="#e0952e"/>
<text x="1633" y="990.6" font-family='"Liberation Sans", sans-serif' font-size="10" fill="#fff" letter-spacing="0.3">14,8203</text>
<path d="M1627 982.2l3 -3V977H1674V987.5H1630v-2.3z" fill="#4a148c"/>
<text x="1633" y="985.8" font-family='"Liberation Sans", sans-serif' font-size="10" fill="#fff" letter-spacing="0.3">20,7205</text>
<rect x="3" y="47" width="114" height="14" fill="#646464"/>
<text x="59" y="57.5" font-family='"Liberation Sans", sans-serif' font-size="9.7" fill="#fff" text-anchor="middle" letter-spacing="0.3">Τρι 14 Σεπ 17</text>
<rect x="5" y="64.5" width="5" height="5" fill="#661616"/>
<text x="14" y="70.5" font-family='"Liberation Sans", sans-serif' font-size="9.5" fill="#661616" letter-spacing="0.55">1.605,4131 Me(200)</text>
<rect x="5" y="78.5" width="5" height="5" fill="#5b8fd9"/>
<text x="14" y="84.5" font-family='"Liberation Sans", sans-serif' font-size="9.5" fill="#4a6a96" letter-spacing="0.55">1.563,36 ΓΔ</text>
<text x="14" y="98.5" font-family='"Liberation Sans", sans-serif' font-size="9.5" fill="#4a6a96" letter-spacing="0.55">1.561,83 Ανοιγμα</text>
<text x="14" y="112.5" font-family='"Liberation Sans", sans-serif' font-size="9.5" fill="#4a6a96" letter-spacing="0.55">1.563,67 Μέγιστο</text>
<text x="14" y="126.5" font-family='"Liberation Sans", sans-serif' font-size="9.5" fill="#4a6a96" letter-spacing="0.55">1.561,83 Ελάχιστο</text>
<rect x="5" y="683.5" width="5" height="5" fill="#5b7fd0"/>
<text x="14" y="689.5" font-family='"Liberation Sans", sans-serif' font-size="9.5" fill="#48608c" letter-spacing="0.55">2,09 εκ Volume</text>
<rect x="5" y="798.0" width="5" height="5" fill="#c87a30"/>
<text x="14" y="804.0" font-family='"Liberation Sans", sans-serif' font-size="9.5" fill="#c87a30" letter-spacing="0.55">-6,2499 Trigger(9)</text>
<rect x="5" y="812.0" width="5" height="5" fill="#1a6a34"/>
<text x="14" y="818.0" font-family='"Liberation Sans", sans-serif' font-size="9.5" fill="#1a6a34" letter-spacing="0.55">-8,0656 MACD(12,26,9)</text>
<rect x="3" y="903" width="104" height="27" fill="#fafaf7"/>
<rect x="5" y="908.0" width="5" height="5" fill="#3a0a7a"/>
<text x="14" y="914.0" font-family='"Liberation Sans", sans-serif' font-size="9.5" fill="#3a0a7a" letter-spacing="0.55">20,7205 StO(5,3,3)</text>
<rect x="5" y="922.0" width="5" height="5" fill="#c88a28"/>
<text x="14" y="928.0" font-family='"Liberation Sans", sans-serif' font-size="9.5" fill="#c88a28" letter-spacing="0.55">14,8203 Slow(3)</text>
<text x="4" y="655" font-family='"Liberation Sans", sans-serif' font-size="9" fill="#e6e6e2" font-style="italic" font-weight="bold">ZTrade™</text>
</svg>
<div id="scroll"><div id="thumb"></div>
<svg width="1680" height="15" style="position:absolute;left:0;top:0"><path d="M9.500 4v7l-5-3.500z" fill="#333"/><path d="M597 4.500v7l5-3.500z" fill="#333"/><rect x="590" y="1" width="1" height="14" fill="#c0c0c0"/><path d="M1620 4.500v7l5-3.500z" fill="#333"/>
<g fill="none" stroke="#999" stroke-width="1"><circle cx="1637" cy="8" r="5.500"/><path d="M1634 8h6"/><circle cx="1654" cy="8" r="5.500"/><path d="M1651 8h6M1654 5v6"/><path d="M1666 8h11M1666 5.500v5M1677 5.500v5"/></g></svg>
</div>
<div id="taskbar">
<div id="start"><svg width="34" height="30" style="position:absolute;left:9px;top:0"><path d="M5 9q4-3 8-1l-1.500 6q-4-2-8 1z" fill="#e8542a"/><path d="M14.500 8.500q4 2 8-1l-1.500 6q-4 3-8 1z" fill="#7cc242"/><path d="M3 16.500q4-3 8-1l-1.500 6q-4-2-8 1z" fill="#3a82e8"/><path d="M12.500 16q4 2 8-1l-1.500 6q-4 3-8 1z" fill="#f8c820"/></svg><span>start</span></div>
<div class="tb" style="left:107px;width:83px"><svg width="17" height="17"><rect x="1" y="5.500" width="15" height="4" fill="#fff"/><rect x="1" y="5.500" width="2" height="4" fill="#223"/><path d="M4 7.500h11" stroke="#8890a0" stroke-width="1"/></svg><span>Sarro…</span></div>
<div class="tb" style="left:192px;width:83px"><svg width="17" height="17"><circle cx="8" cy="8" r="7" fill="#d8dce4"/><circle cx="8" cy="8" r="7" fill="none" stroke="#f4f6fa" stroke-width="1.200" stroke-dasharray="2 1.500"/><path d="M3 6h10M2.500 10h11M8 1.500v13M5 3q-2 5 0 10M11 3q2 5 0 10" stroke="#8c94a4" stroke-width="0.800" fill="none"/></svg><span>Sarro…</span></div>
<div class="tb" style="left:277px;width:83px"><svg width="17" height="17"><circle cx="5" cy="5" r="2.600" fill="#7cc0e8"/><path d="M1 14q0-6 4-6t4 6z" fill="#4a98d8"/><circle cx="10.500" cy="4.500" r="3.200" fill="#5ab45a"/><path d="M5 15.500q0-7.500 5.500-7.500t5.500 7.500z" fill="#3c9c3c"/><circle cx="4" cy="7" r="1.800" fill="#e8f4e8"/></svg><span>Wind…</span></div>
<div class="tb" style="left:362px;width:83px"><svg width="17" height="17"><path d="M2 5.500h11v8H2z" fill="#f4f6fa" stroke="#5c84c8" stroke-width="1"/><path d="M2 5.500l5.500 4 5.500-4" fill="none" stroke="#5c84c8" stroke-width="1"/><path d="M6 1.500q5-1 7 3l2-.5-2.500 4-3-3 2-.3q-1.500-2-4.500-1.500z" fill="#2c6cd8" stroke="#e8f0ff" stroke-width=".6"/><rect x="10" y="9" width="3" height="3" fill="#e8542a"/></svg><span>Inbox…</span></div>
<div class="tb" style="left:447px;width:83px"><svg width="17" height="17"><path d="M4 1.500h8l3 3v11H4z" fill="#f4f6fc" stroke="#8c98b0" stroke-width="1"/><path d="M6 10.500h7M6 12.500h7" stroke="#9ca8c0" stroke-width="1"/><rect x="1" y="2" width="9" height="8" fill="#2c54b8"/><path d="M2.500 3.500l1.500 5 1.500-4 1.500 4 1.500-5" fill="none" stroke="#fff" stroke-width="1.200"/></svg><span>daily …</span></div>
<div class="tb" style="left:532px;width:83px"><svg width="17" height="17"><rect x="1.500" y="3.500" width="13" height="9" fill="#fff" stroke="#111" stroke-width="1.200"/><polyline points="3.500,10 6.500,6.500 8.500,8.500 12.500,5.500" fill="none" stroke="#c01828" stroke-width="1.100"/></svg><span>ETE […</span></div>
<div class="tb" style="left:617px;width:84px"><svg width="17" height="17"><path d="M2 14l6-6.500" stroke="#c8d0dc" stroke-width="2.600" stroke-linecap="round"/><path d="M2 14l6-6.500" stroke="#8c98a8" stroke-width="1" stroke-linecap="round"/><circle cx="10.500" cy="5.500" r="4" fill="#eef2f8" stroke="#b8c4d4" stroke-width="1.400"/></svg><span>ΑΛΦΑ…</span></div>
<div class="tb" style="left:703px;width:84px"><svg width="17" height="17"><rect x="1" y="1" width="15" height="11.500" rx="1" fill="#1c2430"/><rect x="2.500" y="2.500" width="12" height="8.500" fill="#a8c8f0"/><path d="M2.500 2.500h12v4q-6 2-12 4z" fill="#d8e8fc"/><rect x="6.500" y="12.500" width="4" height="2" fill="#1c2430"/><rect x="4" y="14.500" width="9" height="1.500" fill="#1c2430"/></svg><span>Αξιών…</span></div>
<div class="tb" style="left:789px;width:84px"><svg width="17" height="17"><path d="M2 14l6-6.500" stroke="#c8d0dc" stroke-width="2.600" stroke-linecap="round"/><path d="M2 14l6-6.500" stroke="#8c98a8" stroke-width="1" stroke-linecap="round"/><circle cx="10.500" cy="5.500" r="4" fill="#eef2f8" stroke="#b8c4d4" stroke-width="1.400"/></svg><span>ETE10…</span></div>
<div class="tb" style="left:875px;width:84px"><svg width="17" height="17"><rect x="1" y="1" width="15" height="11.500" rx="1" fill="#1c2430"/><rect x="2.500" y="2.500" width="12" height="8.500" fill="#a8c8f0"/><path d="M2.500 2.500h12v4q-6 2-12 4z" fill="#d8e8fc"/><rect x="6.500" y="12.500" width="4" height="2" fill="#1c2430"/><rect x="4" y="14.500" width="9" height="1.500" fill="#1c2430"/></svg><span>Παρα…</span></div>
<div class="tb" style="left:961px;width:84px"><svg width="17" height="17"><rect x="1.500" y="3.500" width="13" height="9" fill="#fff" stroke="#111" stroke-width="1.200"/><polyline points="3.500,10 6.500,6.500 8.500,8.500 12.500,5.500" fill="none" stroke="#c01828" stroke-width="1.100"/></svg><span>ΑΛΦΑ…</span></div>
<div class="tb" style="left:1047px;width:84px"><svg width="17" height="17"><rect x="1.500" y="3.500" width="13" height="9" fill="#fff" stroke="#111" stroke-width="1.200"/><polyline points="3.500,10 6.500,6.500 8.500,8.500 12.500,5.500" fill="none" stroke="#c01828" stroke-width="1.100"/></svg><span>FTAS…</span></div>
<div class="tb act" style="left:1133px;width:84px"><svg width="17" height="17"><rect x="1.500" y="3.500" width="13" height="9" fill="#fff" stroke="#111" stroke-width="1.200"/><polyline points="3.500,10 6.500,6.500 8.500,8.500 12.500,5.500" fill="none" stroke="#c01828" stroke-width="1.100"/></svg><span>ΓΔ [6…</span></div>

<div id="el">EL</div>
<svg width="110" height="30" style="position:absolute;left:1245px;top:0"><path d="M17 8l-6 8" stroke="#111" stroke-width="3.400" stroke-linecap="round"/><path d="M17 8l-2.500 3.300" stroke="#d8d8d8" stroke-width="2" stroke-linecap="round"/><path d="M8.500 16q-1 5 3 5" fill="none" stroke="#e8e8e8" stroke-width="1.200"/><rect x="27" y="8" width="14" height="9" fill="#101838" stroke="#e8e8f0" stroke-width="1"/><path d="M29 11h8M29 13.500h5" stroke="#fff" stroke-width="1"/><path d="M40 10l-6 8" stroke="#fff" stroke-width="2.400"/><path d="M40 10l-6 8" stroke="#223" stroke-width="1"/><circle cx="33" cy="20" r="2" fill="none" stroke="#fff" stroke-width="1"/><rect x="48.500" y="8.500" width="12" height="12" fill="#fffff0" stroke="#111" stroke-width="1.200"/><path d="M52 22l2 3 1-3" fill="#fffff0" stroke="#111" stroke-width="1"/><text x="54.500" y="18.500" font-family="Liberation Sans, sans-serif" font-size="11" font-weight="bold" fill="#000" text-anchor="middle">?</text><path d="M75.500 6.500h6v3.500M73.500 8.500h6v3.500h-6z" fill="none" stroke="#fff" stroke-width="1.200"/><path d="M74 19h6l-3 3.500z" fill="#d8e4ff"/></svg>
<div id="tray"><svg width="254" height="30" style="position:absolute;left:0;top:0"><circle cx="20" cy="11" r="3.400" fill="#5cc0a0"/><path d="M13 23q0-9 7-9t7 9z" fill="#3c98c8"/><path d="M16 23q0-7 4-9q4 2 4 9z" fill="#58b878"/><rect x="30" y="7" width="16" height="16" rx="2" fill="#f08020"/><path d="M34 19h8M35 16.500h6" stroke="#fff" stroke-width="1.200"/><path d="M39 9q-3 3 0 4.500q2 1-1 2.500" fill="none" stroke="#fff" stroke-width="1.200"/><path d="M55 7.500q3 2 6 1.500q.5 10-6 14q-6.500-4-6-14q3 .5 6-1.500z" fill="#f0c020" stroke="#b88c10" stroke-width=".8"/><path d="M55 11v6" stroke="#222" stroke-width="1.800"/><circle cx="55" cy="19.500" r="1" fill="#222"/><ellipse cx="73" cy="14" rx="7.500" ry="6.500" fill="#f4f4f4"/><path d="M67.5 18v-7.500l5.500 4.500 5.500-4.500v7.500" fill="none" stroke="#d82c20" stroke-width="2"/><path d="M70 20l-1 4 4-3z" fill="#f4f4f4"/><path d="M83 11h9l3-3h3.500v15h-15.500z" fill="#2cac3c"/><path d="M86.5 17l2.500 3 5-6" fill="none" stroke="#fff" stroke-width="2"/><circle cx="107.5" cy="13.500" r="6" fill="#8c8c94"/><circle cx="107.5" cy="13.500" r="3.200" fill="#d0d0d8"/><circle cx="107.5" cy="13.500" r="1.400" fill="#44444c"/><path d="M111 22l4-5" stroke="#6890e0" stroke-width="1.200"/><ellipse cx="127" cy="15" rx="7.500" ry="6" fill="#b8a8c8"/><rect x="121" y="11" width="5" height="5" fill="#7858a0"/><rect x="128" y="11" width="5" height="5" fill="#7858a0"/><path d="M121 19.500h12" stroke="#e8e0f0" stroke-width="1.600"/><text x="138" y="21" font-family="Liberation Serif, serif" font-size="15" font-weight="bold" fill="#0018c8">R</text><rect x="146" y="9" width="5" height="11" fill="#48586c"/><rect x="147" y="10.500" width="3" height="3" fill="#c8d8f0"/><path d="M155.5 16q4-6 10-5.500l5.500-1.500v12l-6 1.500q-6-1-9.500-6.500z" fill="#6cac2c"/><path d="M158.5 16q3-3.500 6.500-3q2.500 1 1 4q-2 2-4.500 0" fill="none" stroke="#e8f4d8" stroke-width="1.200"/><rect x="174" y="7.500" width="15" height="15" rx="3" fill="#58c058"/><circle cx="181.5" cy="15" r="4.500" fill="none" stroke="#eaffea" stroke-width="1.800"/><circle cx="181.5" cy="15" r="1.500" fill="#eaffea"/><rect x="192" y="7" width="14.500" height="16" fill="#f8f8f4" stroke="#e07828" stroke-width="1"/><rect x="192" y="17" width="14.500" height="6" fill="#f09040"/><path d="M195 10.500h9M195 13h9" stroke="#3858c0" stroke-width="1.400"/><path d="M195 20h8" stroke="#fff" stroke-width="1.200"/></svg><div id="clock">05:55</div></div>
</div>
</body></html>
